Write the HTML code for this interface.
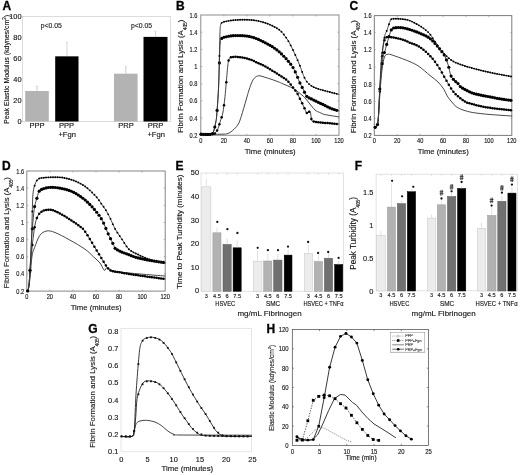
<!DOCTYPE html>
<html><head><meta charset="utf-8"><style>
html,body{margin:0;padding:0;background:#fff;}
svg{display:block;filter:grayscale(1) blur(0.45px);}
text{font-family:"Liberation Sans",sans-serif;stroke:#222;stroke-width:0.14px;}
</style></head><body>
<svg width="520" height="475" viewBox="0 0 520 475">
<rect x="0" y="0" width="520" height="475" fill="#fff"/>
<text x="2.5" y="10" font-size="12" text-anchor="start" fill="#000" font-weight="bold" style="stroke:#000;stroke-width:0.3px">A</text>
<rect x="22.5" y="16.5" width="148" height="105.1" fill="none" stroke="#d4d4d4" stroke-width="0.8"/>
<text x="21.6" y="124.2" font-size="7.4" text-anchor="end" fill="#111" font-weight="normal" >0</text>
<text x="21.6" y="103.18" font-size="7.4" text-anchor="end" fill="#111" font-weight="normal" >20</text>
<text x="21.6" y="82.16" font-size="7.4" text-anchor="end" fill="#111" font-weight="normal" >40</text>
<text x="21.6" y="61.14" font-size="7.4" text-anchor="end" fill="#111" font-weight="normal" >60</text>
<text x="21.6" y="40.12" font-size="7.4" text-anchor="end" fill="#111" font-weight="normal" >80</text>
<text x="21.6" y="19.1" font-size="7.4" text-anchor="end" fill="#111" font-weight="normal" >100</text>
<rect x="25.2" y="91.02" width="23.6" height="30.48" fill="#b3b3b3" stroke="none" stroke-width="0.6"/>
<rect x="55.2" y="56.34" width="23.3" height="65.16" fill="#000" stroke="none" stroke-width="0.6"/>
<rect x="114" y="73.68" width="23.6" height="47.82" fill="#b3b3b3" stroke="none" stroke-width="0.6"/>
<rect x="143.5" y="36.89" width="24" height="84.61" fill="#000" stroke="none" stroke-width="0.6"/>
<line x1="37" y1="91.02" x2="37" y2="86.19" stroke="#999" stroke-width="0.5" />
<line x1="35.8" y1="86.19" x2="38.2" y2="86.19" stroke="#bbb" stroke-width="0.4" />
<line x1="67" y1="56.34" x2="67" y2="42.25" stroke="#aaa" stroke-width="0.5" />
<line x1="65.8" y1="42.25" x2="68.2" y2="42.25" stroke="#bbb" stroke-width="0.4" />
<line x1="125.8" y1="73.68" x2="125.8" y2="66.32" stroke="#999" stroke-width="0.5" />
<line x1="124.6" y1="66.32" x2="127" y2="66.32" stroke="#bbb" stroke-width="0.4" />
<line x1="155.5" y1="36.89" x2="155.5" y2="31.64" stroke="#aaa" stroke-width="0.5" />
<line x1="154.3" y1="31.64" x2="156.7" y2="31.64" stroke="#bbb" stroke-width="0.4" />
<text x="51.3" y="27.8" font-size="6.8" text-anchor="middle" fill="#222" font-weight="normal" >p&lt;0.05</text>
<text x="141.5" y="28.1" font-size="6.8" text-anchor="middle" fill="#222" font-weight="normal" >p&lt;0.05</text>
<text x="37" y="128.3" font-size="7.6" text-anchor="middle" fill="#111" font-weight="normal" >PPP</text>
<text x="66.5" y="128.3" font-size="7.6" text-anchor="middle" fill="#111" font-weight="normal" >PPP</text>
<text x="67.2" y="137.3" font-size="7.6" text-anchor="middle" fill="#111" font-weight="normal" >+Fgn</text>
<text x="126" y="128.3" font-size="7.6" text-anchor="middle" fill="#111" font-weight="normal" >PRP</text>
<text x="155.5" y="128.3" font-size="7.6" text-anchor="middle" fill="#111" font-weight="normal" >PRP</text>
<text x="156.2" y="137.3" font-size="7.6" text-anchor="middle" fill="#111" font-weight="normal" >+Fgn</text>
<text x="8.71" y="69.35" font-size="6.97" text-anchor="middle" fill="#111" transform="rotate(-90 8.71 69.35)">Peak Elastic Modulus (kdynes/cm<tspan font-size="4.5" dy="-3">2</tspan><tspan dy="3">)</tspan></text>
<text x="176" y="10" font-size="12" text-anchor="start" fill="#000" font-weight="bold" style="stroke:#000;stroke-width:0.3px">B</text>
<rect x="200.8" y="15" width="138.2" height="120.3" fill="none" stroke="#8c8c8c" stroke-width="1"/>
<text x="197.3" y="137.8" font-size="6.9" text-anchor="end" fill="#111" font-weight="normal"  textLength="7.86" lengthAdjust="spacingAndGlyphs">0.2</text>
<text x="197.3" y="120.61" font-size="6.9" text-anchor="end" fill="#111" font-weight="normal"  textLength="7.86" lengthAdjust="spacingAndGlyphs">0.4</text>
<line x1="200.8" y1="118.11" x2="202.3" y2="118.11" stroke="#888" stroke-width="0.6" />
<line x1="339" y1="118.11" x2="337.5" y2="118.11" stroke="#888" stroke-width="0.6" />
<text x="197.3" y="103.43" font-size="6.9" text-anchor="end" fill="#111" font-weight="normal"  textLength="7.86" lengthAdjust="spacingAndGlyphs">0.6</text>
<line x1="200.8" y1="100.93" x2="202.3" y2="100.93" stroke="#888" stroke-width="0.6" />
<line x1="339" y1="100.93" x2="337.5" y2="100.93" stroke="#888" stroke-width="0.6" />
<text x="197.3" y="86.24" font-size="6.9" text-anchor="end" fill="#111" font-weight="normal"  textLength="7.86" lengthAdjust="spacingAndGlyphs">0.8</text>
<line x1="200.8" y1="83.74" x2="202.3" y2="83.74" stroke="#888" stroke-width="0.6" />
<line x1="339" y1="83.74" x2="337.5" y2="83.74" stroke="#888" stroke-width="0.6" />
<text x="197.3" y="69.06" font-size="6.9" text-anchor="end" fill="#111" font-weight="normal"  textLength="3.15" lengthAdjust="spacingAndGlyphs">1</text>
<line x1="200.8" y1="66.56" x2="202.3" y2="66.56" stroke="#888" stroke-width="0.6" />
<line x1="339" y1="66.56" x2="337.5" y2="66.56" stroke="#888" stroke-width="0.6" />
<text x="197.3" y="51.87" font-size="6.9" text-anchor="end" fill="#111" font-weight="normal"  textLength="7.86" lengthAdjust="spacingAndGlyphs">1.2</text>
<line x1="200.8" y1="49.37" x2="202.3" y2="49.37" stroke="#888" stroke-width="0.6" />
<line x1="339" y1="49.37" x2="337.5" y2="49.37" stroke="#888" stroke-width="0.6" />
<text x="197.3" y="34.69" font-size="6.9" text-anchor="end" fill="#111" font-weight="normal"  textLength="7.86" lengthAdjust="spacingAndGlyphs">1.4</text>
<line x1="200.8" y1="32.19" x2="202.3" y2="32.19" stroke="#888" stroke-width="0.6" />
<line x1="339" y1="32.19" x2="337.5" y2="32.19" stroke="#888" stroke-width="0.6" />
<text x="197.3" y="17.5" font-size="6.9" text-anchor="end" fill="#111" font-weight="normal"  textLength="7.86" lengthAdjust="spacingAndGlyphs">1.6</text>
<text x="200.8" y="143" font-size="6.9" text-anchor="middle" fill="#111" font-weight="normal"  textLength="3.15" lengthAdjust="spacingAndGlyphs">0</text>
<text x="223.83" y="143" font-size="6.9" text-anchor="middle" fill="#111" font-weight="normal"  textLength="6.29" lengthAdjust="spacingAndGlyphs">20</text>
<line x1="223.83" y1="135.3" x2="223.83" y2="133.8" stroke="#888" stroke-width="0.6" />
<line x1="223.83" y1="15" x2="223.83" y2="16.5" stroke="#888" stroke-width="0.6" />
<text x="246.87" y="143" font-size="6.9" text-anchor="middle" fill="#111" font-weight="normal"  textLength="6.29" lengthAdjust="spacingAndGlyphs">40</text>
<line x1="246.87" y1="135.3" x2="246.87" y2="133.8" stroke="#888" stroke-width="0.6" />
<line x1="246.87" y1="15" x2="246.87" y2="16.5" stroke="#888" stroke-width="0.6" />
<text x="269.9" y="143" font-size="6.9" text-anchor="middle" fill="#111" font-weight="normal"  textLength="6.29" lengthAdjust="spacingAndGlyphs">60</text>
<line x1="269.9" y1="135.3" x2="269.9" y2="133.8" stroke="#888" stroke-width="0.6" />
<line x1="269.9" y1="15" x2="269.9" y2="16.5" stroke="#888" stroke-width="0.6" />
<text x="292.93" y="143" font-size="6.9" text-anchor="middle" fill="#111" font-weight="normal"  textLength="6.29" lengthAdjust="spacingAndGlyphs">80</text>
<line x1="292.93" y1="135.3" x2="292.93" y2="133.8" stroke="#888" stroke-width="0.6" />
<line x1="292.93" y1="15" x2="292.93" y2="16.5" stroke="#888" stroke-width="0.6" />
<text x="315.97" y="143" font-size="6.9" text-anchor="middle" fill="#111" font-weight="normal"  textLength="9.44" lengthAdjust="spacingAndGlyphs">100</text>
<line x1="315.97" y1="135.3" x2="315.97" y2="133.8" stroke="#888" stroke-width="0.6" />
<line x1="315.97" y1="15" x2="315.97" y2="16.5" stroke="#888" stroke-width="0.6" />
<text x="339" y="143" font-size="6.9" text-anchor="middle" fill="#111" font-weight="normal"  textLength="9.44" lengthAdjust="spacingAndGlyphs">120</text>
<text x="270.2" y="154.1" font-size="7.7" text-anchor="middle" fill="#111" font-weight="normal" >Time (minutes)</text>
<text x="183.05" y="76.35" font-size="7.92" text-anchor="middle" fill="#111" transform="rotate(-90 183.05 76.35)">Fibrin Formation and Lysis (A<tspan font-size="4.7" dy="4.4">405</tspan><tspan dy="-4.4">)</tspan></text>
<path d="M201,134.2 C204.5,134.2 217.7,134.27 222,134.2 C226.3,134.13 225.47,134.08 226.8,133.8 C228.13,133.52 228.72,133.33 230,132.5 C231.28,131.67 233.1,130.22 234.5,128.8 C235.9,127.38 237.27,126.08 238.4,124 C239.53,121.92 240.02,120.3 241.3,116.3 C242.58,112.3 244.82,104.38 246.1,100 C247.38,95.62 247.97,93.13 249,90 C250.03,86.87 251.3,83.28 252.3,81.2 C253.3,79.12 254.1,78.37 255,77.5 C255.9,76.63 256.87,76.28 257.7,76 C258.53,75.72 258.83,75.6 260,75.8 C261.17,76 262.7,76.58 264.7,77.2 C266.7,77.82 269.53,78.65 272,79.5 C274.47,80.35 277.67,81.57 279.5,82.3 C281.33,83.03 280.73,82.87 283,83.9 C285.27,84.93 289.73,86.47 293.1,88.5 C296.47,90.53 300.67,93.85 303.2,96.1 C305.73,98.35 306.33,99.68 308.3,102 C310.27,104.32 313.08,108.25 315,110 C316.92,111.75 318.38,111.8 319.8,112.5 C321.22,113.2 321.8,113.7 323.5,114.2 C325.2,114.7 327.45,115.07 330,115.5 C332.55,115.93 337.33,116.58 338.8,116.8" fill="none" stroke="#3c3c3c" stroke-width="0.95" stroke-linejoin="round" stroke-linecap="round" />
<path d="M201,134.2 C203,134.17 210.53,134.33 213,134 C215.47,133.67 214.97,133.08 215.8,132.2 C216.63,131.32 217.25,130.53 218,128.7 C218.75,126.87 219.5,123.82 220.3,121.2 C221.1,118.58 222.02,117.12 222.8,113 C223.58,108.88 224.23,103.73 225,96.5 C225.77,89.27 226.82,75.52 227.4,69.6 C227.98,63.68 228.07,62.97 228.5,61 C228.93,59.03 229.25,58.47 230,57.8 C230.75,57.13 232,57.17 233,57 C234,56.83 234.5,56.72 236,56.8 C237.5,56.88 239.67,57.05 242,57.5 C244.33,57.95 247.5,58.67 250,59.5 C252.5,60.33 254.55,61.4 257,62.5 C259.45,63.6 262.2,64.77 264.7,66.1 C267.2,67.43 269.53,68.98 272,70.5 C274.47,72.02 276.97,73.53 279.5,75.2 C282.03,76.87 284.78,78.22 287.2,80.5 C289.62,82.78 292.38,86.87 294,88.9 C295.62,90.93 295.78,90.8 296.9,92.7 C298.02,94.6 299.52,97.9 300.7,100.3 C301.88,102.7 303.03,105.02 304,107.1 C304.97,109.18 305.75,111.93 306.5,112.8 C307.25,113.67 307.88,112.5 308.5,112.3 C309.12,112.1 309.67,110.28 310.2,111.6 C310.73,112.92 311.15,118.55 311.7,120.2 C312.25,121.85 312.12,121.12 313.5,121.5 C314.88,121.88 317.25,122.2 320,122.5 C322.75,122.8 326.87,123.03 330,123.3 C333.13,123.57 337.33,123.97 338.8,124.1" fill="none" stroke="#444" stroke-width="1" stroke-linejoin="round" stroke-linecap="round" />
<circle cx="201" cy="134.2" r="1.25" fill="#000"/>
<circle cx="203.3" cy="134.2" r="1.25" fill="#000"/>
<circle cx="205.6" cy="134.21" r="1.25" fill="#000"/>
<circle cx="207.9" cy="134.21" r="1.25" fill="#000"/>
<circle cx="210.2" cy="134.17" r="1.25" fill="#000"/>
<circle cx="212.5" cy="134.05" r="1.25" fill="#000"/>
<circle cx="214.8" cy="133.48" r="1.25" fill="#000"/>
<circle cx="217.1" cy="130.54" r="1.25" fill="#000"/>
<circle cx="219.4" cy="124.3" r="1.25" fill="#000"/>
<circle cx="221.7" cy="117.24" r="1.25" fill="#000"/>
<circle cx="224" cy="105.19" r="1.25" fill="#000"/>
<circle cx="226.3" cy="82.19" r="1.25" fill="#000"/>
<circle cx="228.6" cy="60.56" r="1.25" fill="#000"/>
<circle cx="230.9" cy="57.33" r="1.25" fill="#000"/>
<circle cx="233.2" cy="56.97" r="1.25" fill="#000"/>
<circle cx="235.5" cy="56.78" r="1.25" fill="#000"/>
<circle cx="237.8" cy="56.93" r="1.25" fill="#000"/>
<circle cx="240.1" cy="57.19" r="1.25" fill="#000"/>
<circle cx="242.4" cy="57.58" r="1.25" fill="#000"/>
<circle cx="244.7" cy="58.07" r="1.25" fill="#000"/>
<circle cx="247" cy="58.62" r="1.25" fill="#000"/>
<circle cx="249.3" cy="59.28" r="1.25" fill="#000"/>
<circle cx="251.6" cy="60.09" r="1.25" fill="#000"/>
<circle cx="253.9" cy="61.07" r="1.25" fill="#000"/>
<circle cx="256.2" cy="62.14" r="1.25" fill="#000"/>
<circle cx="258.5" cy="63.17" r="1.25" fill="#000"/>
<circle cx="260.8" cy="64.2" r="1.25" fill="#000"/>
<circle cx="263.1" cy="65.28" r="1.25" fill="#000"/>
<circle cx="265.4" cy="66.48" r="1.25" fill="#000"/>
<circle cx="267.7" cy="67.83" r="1.25" fill="#000"/>
<circle cx="270" cy="69.25" r="1.25" fill="#000"/>
<circle cx="272.3" cy="70.68" r="1.25" fill="#000"/>
<circle cx="274.6" cy="72.1" r="1.25" fill="#000"/>
<circle cx="276.9" cy="73.53" r="1.25" fill="#000"/>
<circle cx="279.2" cy="75" r="1.25" fill="#000"/>
<circle cx="281.5" cy="76.45" r="1.25" fill="#000"/>
<circle cx="283.8" cy="77.88" r="1.25" fill="#000"/>
<circle cx="286.1" cy="79.54" r="1.25" fill="#000"/>
<circle cx="288.4" cy="81.74" r="1.25" fill="#000"/>
<circle cx="290.7" cy="84.54" r="1.25" fill="#000"/>
<circle cx="293" cy="87.59" r="1.25" fill="#000"/>
<circle cx="295.3" cy="90.46" r="1.25" fill="#000"/>
<circle cx="297.6" cy="93.97" r="1.25" fill="#000"/>
<circle cx="299.9" cy="98.65" r="1.25" fill="#000"/>
<circle cx="302.2" cy="103.35" r="1.25" fill="#000"/>
<circle cx="304.5" cy="108.26" r="1.25" fill="#000"/>
<circle cx="306.8" cy="113.04" r="1.25" fill="#000"/>
<circle cx="309.1" cy="111.73" r="1.25" fill="#000"/>
<circle cx="311.4" cy="118.88" r="1.25" fill="#000"/>
<circle cx="313.7" cy="121.55" r="1.25" fill="#000"/>
<circle cx="316" cy="121.99" r="1.25" fill="#000"/>
<circle cx="318.3" cy="122.31" r="1.25" fill="#000"/>
<circle cx="320.6" cy="122.56" r="1.25" fill="#000"/>
<circle cx="322.9" cy="122.76" r="1.25" fill="#000"/>
<circle cx="325.2" cy="122.94" r="1.25" fill="#000"/>
<circle cx="327.5" cy="123.1" r="1.25" fill="#000"/>
<circle cx="329.8" cy="123.28" r="1.25" fill="#000"/>
<circle cx="332.1" cy="123.48" r="1.25" fill="#000"/>
<circle cx="334.4" cy="123.69" r="1.25" fill="#000"/>
<circle cx="336.7" cy="123.91" r="1.25" fill="#000"/>
<path d="M201,134.2 C202.67,134.2 208.88,134.73 211,134.2 C213.12,133.67 212.9,133.02 213.7,131 C214.5,128.98 215.29,124.78 215.8,122.1 C216.31,119.42 216.3,120.45 216.75,114.9 C217.2,109.35 218.04,97.95 218.5,88.8 C218.96,79.65 219.22,67.63 219.5,60 C219.78,52.37 219.82,46.62 220.2,43 C220.58,39.38 220.83,39.33 221.8,38.3 C222.77,37.27 224.3,37.22 226,36.8 C227.7,36.38 229.83,36 232,35.8 C234.17,35.6 236.83,35.58 239,35.6 C241.17,35.62 243.17,35.73 245,35.9 C246.83,36.07 248,36.12 250,36.6 C252,37.08 254.55,37.82 257,38.8 C259.45,39.78 262.2,41.22 264.7,42.5 C267.2,43.78 269.53,44.9 272,46.5 C274.47,48.1 277.03,49.93 279.5,52.1 C281.97,54.27 284.6,57.02 286.8,59.5 C289,61.98 291.02,64.33 292.7,67 C294.38,69.67 295.85,73.17 296.9,75.5 C297.95,77.83 297.88,78.55 299,81 C300.12,83.45 302.48,87.9 303.6,90.2 C304.72,92.5 304.97,93.6 305.7,94.8 C306.43,96 307.15,96.77 308,97.4 C308.85,98.03 309.07,97.77 310.8,98.6 C312.53,99.43 316.37,101.42 318.4,102.4 C320.43,103.38 321.07,103.57 323,104.5 C324.93,105.43 327.37,106.92 330,108 C332.63,109.08 337.33,110.5 338.8,111" fill="none" stroke="#444" stroke-width="1" stroke-linejoin="round" stroke-linecap="round" />
<circle cx="201" cy="134.2" r="1.6" fill="#000"/>
<circle cx="203.3" cy="134.29" r="1.6" fill="#000"/>
<circle cx="205.6" cy="134.39" r="1.6" fill="#000"/>
<circle cx="207.9" cy="134.44" r="1.6" fill="#000"/>
<circle cx="210.2" cy="134.33" r="1.6" fill="#000"/>
<circle cx="212.5" cy="133.55" r="1.6" fill="#000"/>
<circle cx="214.8" cy="127.06" r="1.6" fill="#000"/>
<circle cx="217.1" cy="110.41" r="1.6" fill="#000"/>
<circle cx="219.4" cy="62.9" r="1.6" fill="#000"/>
<circle cx="221.7" cy="38.41" r="1.6" fill="#000"/>
<circle cx="224" cy="37.23" r="1.6" fill="#000"/>
<circle cx="226.3" cy="36.73" r="1.6" fill="#000"/>
<circle cx="228.6" cy="36.26" r="1.6" fill="#000"/>
<circle cx="230.9" cy="35.92" r="1.6" fill="#000"/>
<circle cx="233.2" cy="35.71" r="1.6" fill="#000"/>
<circle cx="235.5" cy="35.62" r="1.6" fill="#000"/>
<circle cx="237.8" cy="35.6" r="1.6" fill="#000"/>
<circle cx="240.1" cy="35.62" r="1.6" fill="#000"/>
<circle cx="242.4" cy="35.71" r="1.6" fill="#000"/>
<circle cx="244.7" cy="35.87" r="1.6" fill="#000"/>
<circle cx="247" cy="36.08" r="1.6" fill="#000"/>
<circle cx="249.3" cy="36.44" r="1.6" fill="#000"/>
<circle cx="251.6" cy="37.01" r="1.6" fill="#000"/>
<circle cx="253.9" cy="37.69" r="1.6" fill="#000"/>
<circle cx="256.2" cy="38.49" r="1.6" fill="#000"/>
<circle cx="258.5" cy="39.44" r="1.6" fill="#000"/>
<circle cx="260.8" cy="40.52" r="1.6" fill="#000"/>
<circle cx="263.1" cy="41.68" r="1.6" fill="#000"/>
<circle cx="265.4" cy="42.86" r="1.6" fill="#000"/>
<circle cx="267.7" cy="44.03" r="1.6" fill="#000"/>
<circle cx="270" cy="45.28" r="1.6" fill="#000"/>
<circle cx="272.3" cy="46.7" r="1.6" fill="#000"/>
<circle cx="274.6" cy="48.26" r="1.6" fill="#000"/>
<circle cx="276.9" cy="49.96" r="1.6" fill="#000"/>
<circle cx="279.2" cy="51.84" r="1.6" fill="#000"/>
<circle cx="281.5" cy="53.95" r="1.6" fill="#000"/>
<circle cx="283.8" cy="56.25" r="1.6" fill="#000"/>
<circle cx="286.1" cy="58.72" r="1.6" fill="#000"/>
<circle cx="288.4" cy="61.33" r="1.6" fill="#000"/>
<circle cx="290.7" cy="64.15" r="1.6" fill="#000"/>
<circle cx="293" cy="67.49" r="1.6" fill="#000"/>
<circle cx="295.3" cy="71.94" r="1.6" fill="#000"/>
<circle cx="297.6" cy="77.24" r="1.6" fill="#000"/>
<circle cx="299.9" cy="82.88" r="1.6" fill="#000"/>
<circle cx="302.2" cy="87.42" r="1.6" fill="#000"/>
<circle cx="304.5" cy="92.2" r="1.6" fill="#000"/>
<circle cx="306.8" cy="96.31" r="1.6" fill="#000"/>
<circle cx="309.1" cy="97.93" r="1.6" fill="#000"/>
<circle cx="311.4" cy="98.89" r="1.6" fill="#000"/>
<circle cx="313.7" cy="100.05" r="1.6" fill="#000"/>
<circle cx="316" cy="101.21" r="1.6" fill="#000"/>
<circle cx="318.3" cy="102.35" r="1.6" fill="#000"/>
<circle cx="320.6" cy="103.41" r="1.6" fill="#000"/>
<circle cx="322.9" cy="104.45" r="1.6" fill="#000"/>
<circle cx="325.2" cy="105.64" r="1.6" fill="#000"/>
<circle cx="327.5" cy="106.85" r="1.6" fill="#000"/>
<circle cx="329.8" cy="107.91" r="1.6" fill="#000"/>
<circle cx="332.1" cy="108.79" r="1.6" fill="#000"/>
<circle cx="334.4" cy="109.57" r="1.6" fill="#000"/>
<circle cx="336.7" cy="110.32" r="1.6" fill="#000"/>
<path d="M201,134.2 C202.67,134.2 208.88,134.73 211,134.2 C213.12,133.67 212.9,133.02 213.7,131 C214.5,128.98 215.29,124.78 215.8,122.1 C216.31,119.42 216.3,120.45 216.75,114.9 C217.2,109.35 218.07,97.95 218.5,88.8 C218.93,79.65 219.07,68.97 219.3,60 C219.53,51.03 219.7,40.75 219.9,35 C220.1,29.25 220.15,27.57 220.5,25.5 C220.85,23.43 221.08,23.28 222,22.6 C222.92,21.92 224.33,21.77 226,21.4 C227.67,21.03 229.17,20.68 232,20.4 C234.83,20.12 239.17,19.7 243,19.7 C246.83,19.7 251.33,19.88 255,20.4 C258.67,20.92 262.17,21.93 265,22.8 C267.83,23.67 269.58,24.4 272,25.6 C274.42,26.8 277.5,28.47 279.5,30 C281.5,31.53 282.58,33.05 284,34.8 C285.42,36.55 286.67,38.3 288,40.5 C289.33,42.7 290.67,45.33 292,48 C293.33,50.67 294.67,53.5 296,56.5 C297.33,59.5 298.75,62.83 300,66 C301.25,69.17 302.5,73.08 303.5,75.5 C304.5,77.92 305.08,79.08 306,80.5 C306.92,81.92 307.83,82.95 309,84 C310.17,85.05 311.5,86 313,86.8 C314.5,87.6 316,88.13 318,88.8 C320,89.47 321.53,89.87 325,90.8 C328.47,91.73 336.5,93.8 338.8,94.4" fill="none" stroke="#333" stroke-width="0.9" stroke-linejoin="round" stroke-linecap="round" />
<circle cx="201" cy="134.2" r="0.95" fill="#000"/>
<circle cx="203.3" cy="134.29" r="0.95" fill="#000"/>
<circle cx="205.6" cy="134.39" r="0.95" fill="#000"/>
<circle cx="207.9" cy="134.44" r="0.95" fill="#000"/>
<circle cx="210.2" cy="134.33" r="0.95" fill="#000"/>
<circle cx="212.5" cy="133.55" r="0.95" fill="#000"/>
<circle cx="214.8" cy="127.06" r="0.95" fill="#000"/>
<circle cx="217.1" cy="110.46" r="0.95" fill="#000"/>
<circle cx="219.4" cy="55.92" r="0.95" fill="#000"/>
<circle cx="221.7" cy="22.83" r="0.95" fill="#000"/>
<circle cx="224" cy="21.82" r="0.95" fill="#000"/>
<circle cx="226.3" cy="21.33" r="0.95" fill="#000"/>
<circle cx="228.6" cy="20.86" r="0.95" fill="#000"/>
<circle cx="230.9" cy="20.52" r="0.95" fill="#000"/>
<circle cx="233.2" cy="20.28" r="0.95" fill="#000"/>
<circle cx="235.5" cy="20.07" r="0.95" fill="#000"/>
<circle cx="237.8" cy="19.9" r="0.95" fill="#000"/>
<circle cx="240.1" cy="19.77" r="0.95" fill="#000"/>
<circle cx="242.4" cy="19.71" r="0.95" fill="#000"/>
<circle cx="244.7" cy="19.71" r="0.95" fill="#000"/>
<circle cx="247" cy="19.77" r="0.95" fill="#000"/>
<circle cx="249.3" cy="19.87" r="0.95" fill="#000"/>
<circle cx="251.6" cy="20.03" r="0.95" fill="#000"/>
<circle cx="253.9" cy="20.26" r="0.95" fill="#000"/>
<circle cx="256.2" cy="20.59" r="0.95" fill="#000"/>
<circle cx="258.5" cy="21.04" r="0.95" fill="#000"/>
<circle cx="260.8" cy="21.6" r="0.95" fill="#000"/>
<circle cx="263.1" cy="22.23" r="0.95" fill="#000"/>
<circle cx="265.4" cy="22.92" r="0.95" fill="#000"/>
<circle cx="267.7" cy="23.71" r="0.95" fill="#000"/>
<circle cx="270" cy="24.65" r="0.95" fill="#000"/>
<circle cx="272.3" cy="25.75" r="0.95" fill="#000"/>
<circle cx="274.6" cy="26.95" r="0.95" fill="#000"/>
<circle cx="276.9" cy="28.26" r="0.95" fill="#000"/>
<circle cx="279.2" cy="29.78" r="0.95" fill="#000"/>
<circle cx="281.5" cy="31.81" r="0.95" fill="#000"/>
<circle cx="283.8" cy="34.55" r="0.95" fill="#000"/>
<circle cx="286.1" cy="37.58" r="0.95" fill="#000"/>
<circle cx="288.4" cy="41.17" r="0.95" fill="#000"/>
<circle cx="290.7" cy="45.42" r="0.95" fill="#000"/>
<circle cx="293" cy="50.03" r="0.95" fill="#000"/>
<circle cx="295.3" cy="54.94" r="0.95" fill="#000"/>
<circle cx="297.6" cy="60.17" r="0.95" fill="#000"/>
<circle cx="299.9" cy="65.75" r="0.95" fill="#000"/>
<circle cx="302.2" cy="72.03" r="0.95" fill="#000"/>
<circle cx="304.5" cy="77.79" r="0.95" fill="#000"/>
<circle cx="306.8" cy="81.64" r="0.95" fill="#000"/>
<circle cx="309.1" cy="84.09" r="0.95" fill="#000"/>
<circle cx="311.4" cy="85.85" r="0.95" fill="#000"/>
<circle cx="313.7" cy="87.15" r="0.95" fill="#000"/>
<circle cx="316" cy="88.11" r="0.95" fill="#000"/>
<circle cx="318.3" cy="88.9" r="0.95" fill="#000"/>
<circle cx="320.6" cy="89.6" r="0.95" fill="#000"/>
<circle cx="322.9" cy="90.23" r="0.95" fill="#000"/>
<circle cx="325.2" cy="90.85" r="0.95" fill="#000"/>
<circle cx="327.5" cy="91.46" r="0.95" fill="#000"/>
<circle cx="329.8" cy="92.06" r="0.95" fill="#000"/>
<circle cx="332.1" cy="92.66" r="0.95" fill="#000"/>
<circle cx="334.4" cy="93.26" r="0.95" fill="#000"/>
<circle cx="336.7" cy="93.86" r="0.95" fill="#000"/>
<text x="349.5" y="10" font-size="12" text-anchor="start" fill="#000" font-weight="bold" style="stroke:#000;stroke-width:0.3px">C</text>
<rect x="374.3" y="15.6" width="137.5" height="119.8" fill="none" stroke="#7c7c7c" stroke-width="1"/>
<text x="371.6" y="137.9" font-size="6.9" text-anchor="end" fill="#111" font-weight="normal"  textLength="7.86" lengthAdjust="spacingAndGlyphs">0.2</text>
<text x="371.6" y="120.79" font-size="6.9" text-anchor="end" fill="#111" font-weight="normal"  textLength="7.86" lengthAdjust="spacingAndGlyphs">0.4</text>
<line x1="374.3" y1="118.29" x2="375.8" y2="118.29" stroke="#888" stroke-width="0.6" />
<line x1="511.8" y1="118.29" x2="510.3" y2="118.29" stroke="#888" stroke-width="0.6" />
<text x="371.6" y="103.67" font-size="6.9" text-anchor="end" fill="#111" font-weight="normal"  textLength="7.86" lengthAdjust="spacingAndGlyphs">0.6</text>
<line x1="374.3" y1="101.17" x2="375.8" y2="101.17" stroke="#888" stroke-width="0.6" />
<line x1="511.8" y1="101.17" x2="510.3" y2="101.17" stroke="#888" stroke-width="0.6" />
<text x="371.6" y="86.56" font-size="6.9" text-anchor="end" fill="#111" font-weight="normal"  textLength="7.86" lengthAdjust="spacingAndGlyphs">0.8</text>
<line x1="374.3" y1="84.06" x2="375.8" y2="84.06" stroke="#888" stroke-width="0.6" />
<line x1="511.8" y1="84.06" x2="510.3" y2="84.06" stroke="#888" stroke-width="0.6" />
<text x="371.6" y="69.44" font-size="6.9" text-anchor="end" fill="#111" font-weight="normal"  textLength="3.15" lengthAdjust="spacingAndGlyphs">1</text>
<line x1="374.3" y1="66.94" x2="375.8" y2="66.94" stroke="#888" stroke-width="0.6" />
<line x1="511.8" y1="66.94" x2="510.3" y2="66.94" stroke="#888" stroke-width="0.6" />
<text x="371.6" y="52.33" font-size="6.9" text-anchor="end" fill="#111" font-weight="normal"  textLength="7.86" lengthAdjust="spacingAndGlyphs">1.2</text>
<line x1="374.3" y1="49.83" x2="375.8" y2="49.83" stroke="#888" stroke-width="0.6" />
<line x1="511.8" y1="49.83" x2="510.3" y2="49.83" stroke="#888" stroke-width="0.6" />
<text x="371.6" y="35.21" font-size="6.9" text-anchor="end" fill="#111" font-weight="normal"  textLength="7.86" lengthAdjust="spacingAndGlyphs">1.4</text>
<line x1="374.3" y1="32.71" x2="375.8" y2="32.71" stroke="#888" stroke-width="0.6" />
<line x1="511.8" y1="32.71" x2="510.3" y2="32.71" stroke="#888" stroke-width="0.6" />
<text x="371.6" y="18.1" font-size="6.9" text-anchor="end" fill="#111" font-weight="normal"  textLength="7.86" lengthAdjust="spacingAndGlyphs">1.6</text>
<text x="374.3" y="143.3" font-size="6.9" text-anchor="middle" fill="#111" font-weight="normal"  textLength="3.15" lengthAdjust="spacingAndGlyphs">0</text>
<text x="397.22" y="143.3" font-size="6.9" text-anchor="middle" fill="#111" font-weight="normal"  textLength="6.29" lengthAdjust="spacingAndGlyphs">20</text>
<line x1="397.22" y1="135.4" x2="397.22" y2="133.9" stroke="#888" stroke-width="0.6" />
<line x1="397.22" y1="15.6" x2="397.22" y2="17.1" stroke="#888" stroke-width="0.6" />
<text x="420.13" y="143.3" font-size="6.9" text-anchor="middle" fill="#111" font-weight="normal"  textLength="6.29" lengthAdjust="spacingAndGlyphs">40</text>
<line x1="420.13" y1="135.4" x2="420.13" y2="133.9" stroke="#888" stroke-width="0.6" />
<line x1="420.13" y1="15.6" x2="420.13" y2="17.1" stroke="#888" stroke-width="0.6" />
<text x="443.05" y="143.3" font-size="6.9" text-anchor="middle" fill="#111" font-weight="normal"  textLength="6.29" lengthAdjust="spacingAndGlyphs">60</text>
<line x1="443.05" y1="135.4" x2="443.05" y2="133.9" stroke="#888" stroke-width="0.6" />
<line x1="443.05" y1="15.6" x2="443.05" y2="17.1" stroke="#888" stroke-width="0.6" />
<text x="465.97" y="143.3" font-size="6.9" text-anchor="middle" fill="#111" font-weight="normal"  textLength="6.29" lengthAdjust="spacingAndGlyphs">80</text>
<line x1="465.97" y1="135.4" x2="465.97" y2="133.9" stroke="#888" stroke-width="0.6" />
<line x1="465.97" y1="15.6" x2="465.97" y2="17.1" stroke="#888" stroke-width="0.6" />
<text x="488.88" y="143.3" font-size="6.9" text-anchor="middle" fill="#111" font-weight="normal"  textLength="9.44" lengthAdjust="spacingAndGlyphs">100</text>
<line x1="488.88" y1="135.4" x2="488.88" y2="133.9" stroke="#888" stroke-width="0.6" />
<line x1="488.88" y1="15.6" x2="488.88" y2="17.1" stroke="#888" stroke-width="0.6" />
<text x="511.8" y="143.3" font-size="6.9" text-anchor="middle" fill="#111" font-weight="normal"  textLength="9.44" lengthAdjust="spacingAndGlyphs">120</text>
<text x="443.3" y="154.3" font-size="7.7" text-anchor="middle" fill="#111" font-weight="normal" >Time (minutes)</text>
<text x="355.64" y="76.65" font-size="7.9" text-anchor="middle" fill="#111" transform="rotate(-90 355.64 76.65)">Fibrin Formation and Lysis (A<tspan font-size="4.7" dy="4.4">405</tspan><tspan dy="-4.4">)</tspan></text>
<path d="M375.2,127.3 C375.67,126.35 377.2,127.48 378,121.6 C378.8,115.72 379.33,100.6 380,92 C380.67,83.4 381.25,75.83 382,70 C382.75,64.17 383.45,59.63 384.5,57 C385.55,54.37 386.52,54.35 388.3,54.2 C390.08,54.05 391.58,54.85 395.2,56.1 C398.82,57.35 406,59.95 410,61.7 C414,63.45 415.87,64.3 419.2,66.6 C422.53,68.9 426.87,72.93 430,75.5 C433.13,78.07 435.7,79.72 438,82 C440.3,84.28 442.25,86.85 443.8,89.2 C445.35,91.55 446.1,94.13 447.3,96.1 C448.5,98.07 449.55,99.27 451,101 C452.45,102.73 454,105 456,106.5 C458,108 460.12,108.98 463,110 C465.88,111.02 468.8,111.85 473.3,112.6 C477.8,113.35 483.58,113.93 490,114.5 C496.42,115.07 508.17,115.75 511.8,116" fill="none" stroke="#3c3c3c" stroke-width="0.95" stroke-linejoin="round" stroke-linecap="round" />
<path d="M375.2,127.3 C375.67,126.35 377.2,128.15 378,121.6 C378.8,115.05 379.3,99.1 380,88 C380.7,76.9 381.45,63 382.2,55 C382.95,47 383.58,42.98 384.5,40 C385.42,37.02 385.92,37.47 387.7,37.1 C389.48,36.73 392.32,37.23 395.2,37.8 C398.08,38.37 402.53,39.67 405,40.5 C407.47,41.33 407.63,41.77 410,42.8 C412.37,43.83 415.87,44.53 419.2,46.7 C422.53,48.87 426.77,52.42 430,55.8 C433.23,59.18 436,63.1 438.6,67 C441.2,70.9 443.87,76.2 445.6,79.2 C447.33,82.2 447.57,82.75 449,85 C450.43,87.25 451.6,89.98 454.2,92.7 C456.8,95.42 461.63,99.42 464.6,101.3 C467.57,103.18 469.12,103.13 472,104 C474.88,104.87 478.07,105.75 481.9,106.5 C485.73,107.25 490.02,107.87 495,108.5 C499.98,109.13 509,110 511.8,110.3" fill="none" stroke="#444" stroke-width="1" stroke-linejoin="round" stroke-linecap="round" />
<circle cx="375.2" cy="127.3" r="1.25" fill="#000"/>
<circle cx="377.5" cy="124.39" r="1.25" fill="#000"/>
<circle cx="379.8" cy="91.4" r="1.25" fill="#000"/>
<circle cx="382.1" cy="56.13" r="1.25" fill="#000"/>
<circle cx="384.4" cy="40.34" r="1.25" fill="#000"/>
<circle cx="386.7" cy="37.27" r="1.25" fill="#000"/>
<circle cx="389" cy="36.98" r="1.25" fill="#000"/>
<circle cx="391.3" cy="37.13" r="1.25" fill="#000"/>
<circle cx="393.6" cy="37.5" r="1.25" fill="#000"/>
<circle cx="395.9" cy="37.95" r="1.25" fill="#000"/>
<circle cx="398.2" cy="38.5" r="1.25" fill="#000"/>
<circle cx="400.5" cy="39.12" r="1.25" fill="#000"/>
<circle cx="402.8" cy="39.8" r="1.25" fill="#000"/>
<circle cx="405.1" cy="40.54" r="1.25" fill="#000"/>
<circle cx="407.4" cy="41.5" r="1.25" fill="#000"/>
<circle cx="409.7" cy="42.67" r="1.25" fill="#000"/>
<circle cx="412" cy="43.55" r="1.25" fill="#000"/>
<circle cx="414.3" cy="44.35" r="1.25" fill="#000"/>
<circle cx="416.6" cy="45.28" r="1.25" fill="#000"/>
<circle cx="418.9" cy="46.52" r="1.25" fill="#000"/>
<circle cx="421.2" cy="48.09" r="1.25" fill="#000"/>
<circle cx="423.5" cy="49.86" r="1.25" fill="#000"/>
<circle cx="425.8" cy="51.8" r="1.25" fill="#000"/>
<circle cx="428.1" cy="53.9" r="1.25" fill="#000"/>
<circle cx="430.4" cy="56.23" r="1.25" fill="#000"/>
<circle cx="432.7" cy="58.87" r="1.25" fill="#000"/>
<circle cx="435" cy="61.83" r="1.25" fill="#000"/>
<circle cx="437.3" cy="65.07" r="1.25" fill="#000"/>
<circle cx="439.6" cy="68.56" r="1.25" fill="#000"/>
<circle cx="441.9" cy="72.49" r="1.25" fill="#000"/>
<circle cx="444.2" cy="76.69" r="1.25" fill="#000"/>
<circle cx="446.5" cy="80.77" r="1.25" fill="#000"/>
<circle cx="448.8" cy="84.68" r="1.25" fill="#000"/>
<circle cx="451.1" cy="88.57" r="1.25" fill="#000"/>
<circle cx="453.4" cy="91.81" r="1.25" fill="#000"/>
<circle cx="455.7" cy="94.18" r="1.25" fill="#000"/>
<circle cx="458" cy="96.24" r="1.25" fill="#000"/>
<circle cx="460.3" cy="98.16" r="1.25" fill="#000"/>
<circle cx="462.6" cy="99.92" r="1.25" fill="#000"/>
<circle cx="464.9" cy="101.48" r="1.25" fill="#000"/>
<circle cx="467.2" cy="102.65" r="1.25" fill="#000"/>
<circle cx="469.5" cy="103.34" r="1.25" fill="#000"/>
<circle cx="471.8" cy="103.94" r="1.25" fill="#000"/>
<circle cx="474.1" cy="104.62" r="1.25" fill="#000"/>
<circle cx="476.4" cy="105.24" r="1.25" fill="#000"/>
<circle cx="478.7" cy="105.81" r="1.25" fill="#000"/>
<circle cx="481" cy="106.32" r="1.25" fill="#000"/>
<circle cx="483.3" cy="106.76" r="1.25" fill="#000"/>
<circle cx="485.6" cy="107.16" r="1.25" fill="#000"/>
<circle cx="487.9" cy="107.53" r="1.25" fill="#000"/>
<circle cx="490.2" cy="107.86" r="1.25" fill="#000"/>
<circle cx="492.5" cy="108.18" r="1.25" fill="#000"/>
<circle cx="494.8" cy="108.47" r="1.25" fill="#000"/>
<circle cx="497.1" cy="108.75" r="1.25" fill="#000"/>
<circle cx="499.4" cy="109.01" r="1.25" fill="#000"/>
<circle cx="501.7" cy="109.26" r="1.25" fill="#000"/>
<circle cx="504" cy="109.5" r="1.25" fill="#000"/>
<circle cx="506.3" cy="109.74" r="1.25" fill="#000"/>
<circle cx="508.6" cy="109.97" r="1.25" fill="#000"/>
<circle cx="510.9" cy="110.21" r="1.25" fill="#000"/>
<path d="M375.2,127.3 C375.67,126.35 377.2,128.48 378,121.6 C378.8,114.72 379.23,96.3 380,86 C380.77,75.7 381.75,65.73 382.6,59.8 C383.45,53.87 384.37,53.13 385.1,50.4 C385.83,47.67 386.15,46.35 387,43.4 C387.85,40.45 389.35,35.12 390.2,32.7 C391.05,30.28 391.27,29.73 392.1,28.9 C392.93,28.07 393.55,27.9 395.2,27.7 C396.85,27.5 399.53,27.38 402,27.7 C404.47,28.02 407.13,28.72 410,29.6 C412.87,30.48 415.87,31.52 419.2,33 C422.53,34.48 426.47,35.7 430,38.5 C433.53,41.3 437.9,46.8 440.4,49.8 C442.9,52.8 443.7,53.97 445,56.5 C446.3,59.03 447.23,61.85 448.2,65 C449.17,68.15 449.83,72.9 450.8,75.4 C451.77,77.9 452.85,78.7 454,80 C455.15,81.3 456.65,82.1 457.7,83.2 C458.75,84.3 459.08,85.55 460.3,86.6 C461.52,87.65 463.13,88.48 465,89.5 C466.87,90.52 469,91.78 471.5,92.7 C474,93.62 476.82,94.28 480,95 C483.18,95.72 487.27,96.37 490.6,97 C493.93,97.63 496.47,98.22 500,98.8 C503.53,99.38 509.83,100.22 511.8,100.5" fill="none" stroke="#444" stroke-width="1" stroke-linejoin="round" stroke-linecap="round" />
<circle cx="375.2" cy="127.3" r="1.6" fill="#000"/>
<circle cx="377.5" cy="124.51" r="1.6" fill="#000"/>
<circle cx="379.8" cy="88.99" r="1.6" fill="#000"/>
<circle cx="382.1" cy="63.63" r="1.6" fill="#000"/>
<circle cx="384.4" cy="52.51" r="1.6" fill="#000"/>
<circle cx="386.7" cy="44.45" r="1.6" fill="#000"/>
<circle cx="389" cy="36.5" r="1.6" fill="#000"/>
<circle cx="391.3" cy="29.93" r="1.6" fill="#000"/>
<circle cx="393.6" cy="27.98" r="1.6" fill="#000"/>
<circle cx="395.9" cy="27.63" r="1.6" fill="#000"/>
<circle cx="398.2" cy="27.51" r="1.6" fill="#000"/>
<circle cx="400.5" cy="27.56" r="1.6" fill="#000"/>
<circle cx="402.8" cy="27.82" r="1.6" fill="#000"/>
<circle cx="405.1" cy="28.26" r="1.6" fill="#000"/>
<circle cx="407.4" cy="28.84" r="1.6" fill="#000"/>
<circle cx="409.7" cy="29.51" r="1.6" fill="#000"/>
<circle cx="412" cy="30.24" r="1.6" fill="#000"/>
<circle cx="414.3" cy="31.03" r="1.6" fill="#000"/>
<circle cx="416.6" cy="31.9" r="1.6" fill="#000"/>
<circle cx="418.9" cy="32.87" r="1.6" fill="#000"/>
<circle cx="421.2" cy="33.85" r="1.6" fill="#000"/>
<circle cx="423.5" cy="34.8" r="1.6" fill="#000"/>
<circle cx="425.8" cy="35.87" r="1.6" fill="#000"/>
<circle cx="428.1" cy="37.16" r="1.6" fill="#000"/>
<circle cx="430.4" cy="38.84" r="1.6" fill="#000"/>
<circle cx="432.7" cy="40.96" r="1.6" fill="#000"/>
<circle cx="435" cy="43.42" r="1.6" fill="#000"/>
<circle cx="437.3" cy="46.07" r="1.6" fill="#000"/>
<circle cx="439.6" cy="48.83" r="1.6" fill="#000"/>
<circle cx="441.9" cy="51.64" r="1.6" fill="#000"/>
<circle cx="444.2" cy="55.01" r="1.6" fill="#000"/>
<circle cx="446.5" cy="59.92" r="1.6" fill="#000"/>
<circle cx="448.8" cy="67.27" r="1.6" fill="#000"/>
<circle cx="451.1" cy="76.11" r="1.6" fill="#000"/>
<circle cx="453.4" cy="79.35" r="1.6" fill="#000"/>
<circle cx="455.7" cy="81.53" r="1.6" fill="#000"/>
<circle cx="458" cy="83.54" r="1.6" fill="#000"/>
<circle cx="460.3" cy="86.6" r="1.6" fill="#000"/>
<circle cx="462.6" cy="88.18" r="1.6" fill="#000"/>
<circle cx="464.9" cy="89.45" r="1.6" fill="#000"/>
<circle cx="467.2" cy="90.71" r="1.6" fill="#000"/>
<circle cx="469.5" cy="91.87" r="1.6" fill="#000"/>
<circle cx="471.8" cy="92.81" r="1.6" fill="#000"/>
<circle cx="474.1" cy="93.54" r="1.6" fill="#000"/>
<circle cx="476.4" cy="94.16" r="1.6" fill="#000"/>
<circle cx="478.7" cy="94.7" r="1.6" fill="#000"/>
<circle cx="481" cy="95.22" r="1.6" fill="#000"/>
<circle cx="483.3" cy="95.67" r="1.6" fill="#000"/>
<circle cx="485.6" cy="96.1" r="1.6" fill="#000"/>
<circle cx="487.9" cy="96.51" r="1.6" fill="#000"/>
<circle cx="490.2" cy="96.93" r="1.6" fill="#000"/>
<circle cx="492.5" cy="97.37" r="1.6" fill="#000"/>
<circle cx="494.8" cy="97.83" r="1.6" fill="#000"/>
<circle cx="497.1" cy="98.28" r="1.6" fill="#000"/>
<circle cx="499.4" cy="98.7" r="1.6" fill="#000"/>
<circle cx="501.7" cy="99.07" r="1.6" fill="#000"/>
<circle cx="504" cy="99.41" r="1.6" fill="#000"/>
<circle cx="506.3" cy="99.74" r="1.6" fill="#000"/>
<circle cx="508.6" cy="100.06" r="1.6" fill="#000"/>
<circle cx="510.9" cy="100.37" r="1.6" fill="#000"/>
<path d="M375.2,127.3 C375.67,126.35 377.2,128.72 378,121.6 C378.8,114.48 379.43,95 380,84.6 C380.57,74.2 380.65,67.12 381.4,59.2 C382.15,51.28 383.57,41.93 384.5,37.1 C385.43,32.27 386.15,32.62 387,30.2 C387.85,27.78 388.85,24.45 389.6,22.6 C390.35,20.75 390.13,19.73 391.5,19.1 C392.87,18.47 395.72,18.77 397.8,18.8 C399.88,18.83 401.97,18.98 404,19.3 C406.03,19.62 407.47,19.67 410,20.7 C412.53,21.73 416.7,24.03 419.2,25.5 C421.7,26.97 423.2,28.05 425,29.5 C426.8,30.95 428.08,31.78 430,34.2 C431.92,36.62 434.48,41.12 436.5,44 C438.52,46.88 440.18,49.25 442.1,51.5 C444.02,53.75 445.98,55.77 448,57.5 C450.02,59.23 451.87,60.65 454.2,61.9 C456.53,63.15 459.37,64.07 462,65 C464.63,65.93 466.68,66.57 470,67.5 C473.32,68.43 477.73,69.6 481.9,70.6 C486.07,71.6 490.02,72.5 495,73.5 C499.98,74.5 509,76.08 511.8,76.6" fill="none" stroke="#333" stroke-width="0.9" stroke-linejoin="round" stroke-linecap="round" />
<circle cx="375.2" cy="127.3" r="0.95" fill="#000"/>
<circle cx="377.5" cy="124.6" r="0.95" fill="#000"/>
<circle cx="379.8" cy="88.58" r="0.95" fill="#000"/>
<circle cx="382.1" cy="52.85" r="0.95" fill="#000"/>
<circle cx="384.4" cy="37.64" r="0.95" fill="#000"/>
<circle cx="386.7" cy="30.95" r="0.95" fill="#000"/>
<circle cx="389" cy="24.22" r="0.95" fill="#000"/>
<circle cx="391.3" cy="19.21" r="0.95" fill="#000"/>
<circle cx="393.6" cy="18.72" r="0.95" fill="#000"/>
<circle cx="395.9" cy="18.74" r="0.95" fill="#000"/>
<circle cx="398.2" cy="18.81" r="0.95" fill="#000"/>
<circle cx="400.5" cy="18.91" r="0.95" fill="#000"/>
<circle cx="402.8" cy="19.13" r="0.95" fill="#000"/>
<circle cx="405.1" cy="19.46" r="0.95" fill="#000"/>
<circle cx="407.4" cy="19.86" r="0.95" fill="#000"/>
<circle cx="409.7" cy="20.58" r="0.95" fill="#000"/>
<circle cx="412" cy="21.61" r="0.95" fill="#000"/>
<circle cx="414.3" cy="22.77" r="0.95" fill="#000"/>
<circle cx="416.6" cy="24.02" r="0.95" fill="#000"/>
<circle cx="418.9" cy="25.33" r="0.95" fill="#000"/>
<circle cx="421.2" cy="26.73" r="0.95" fill="#000"/>
<circle cx="423.5" cy="28.33" r="0.95" fill="#000"/>
<circle cx="425.8" cy="30.13" r="0.95" fill="#000"/>
<circle cx="428.1" cy="32.08" r="0.95" fill="#000"/>
<circle cx="430.4" cy="34.72" r="0.95" fill="#000"/>
<circle cx="432.7" cy="38.12" r="0.95" fill="#000"/>
<circle cx="435" cy="41.74" r="0.95" fill="#000"/>
<circle cx="437.3" cy="45.14" r="0.95" fill="#000"/>
<circle cx="439.6" cy="48.34" r="0.95" fill="#000"/>
<circle cx="441.9" cy="51.26" r="0.95" fill="#000"/>
<circle cx="444.2" cy="53.85" r="0.95" fill="#000"/>
<circle cx="446.5" cy="56.15" r="0.95" fill="#000"/>
<circle cx="448.8" cy="58.18" r="0.95" fill="#000"/>
<circle cx="451.1" cy="59.97" r="0.95" fill="#000"/>
<circle cx="453.4" cy="61.45" r="0.95" fill="#000"/>
<circle cx="455.7" cy="62.63" r="0.95" fill="#000"/>
<circle cx="458" cy="63.57" r="0.95" fill="#000"/>
<circle cx="460.3" cy="64.4" r="0.95" fill="#000"/>
<circle cx="462.6" cy="65.21" r="0.95" fill="#000"/>
<circle cx="464.9" cy="65.98" r="0.95" fill="#000"/>
<circle cx="467.2" cy="66.69" r="0.95" fill="#000"/>
<circle cx="469.5" cy="67.36" r="0.95" fill="#000"/>
<circle cx="471.8" cy="68" r="0.95" fill="#000"/>
<circle cx="474.1" cy="68.62" r="0.95" fill="#000"/>
<circle cx="476.4" cy="69.22" r="0.95" fill="#000"/>
<circle cx="478.7" cy="69.81" r="0.95" fill="#000"/>
<circle cx="481" cy="70.38" r="0.95" fill="#000"/>
<circle cx="483.3" cy="70.93" r="0.95" fill="#000"/>
<circle cx="485.6" cy="71.47" r="0.95" fill="#000"/>
<circle cx="487.9" cy="72" r="0.95" fill="#000"/>
<circle cx="490.2" cy="72.5" r="0.95" fill="#000"/>
<circle cx="492.5" cy="72.99" r="0.95" fill="#000"/>
<circle cx="494.8" cy="73.46" r="0.95" fill="#000"/>
<circle cx="497.1" cy="73.91" r="0.95" fill="#000"/>
<circle cx="499.4" cy="74.35" r="0.95" fill="#000"/>
<circle cx="501.7" cy="74.77" r="0.95" fill="#000"/>
<circle cx="504" cy="75.19" r="0.95" fill="#000"/>
<circle cx="506.3" cy="75.61" r="0.95" fill="#000"/>
<circle cx="508.6" cy="76.02" r="0.95" fill="#000"/>
<circle cx="510.9" cy="76.44" r="0.95" fill="#000"/>
<text x="1.9" y="169.8" font-size="12" text-anchor="start" fill="#000" font-weight="bold" style="stroke:#000;stroke-width:0.3px">D</text>
<rect x="26.8" y="171" width="138.4" height="120.1" fill="none" stroke="#858585" stroke-width="1"/>
<text x="24.2" y="293.6" font-size="6.9" text-anchor="end" fill="#111" font-weight="normal"  textLength="7.86" lengthAdjust="spacingAndGlyphs">0.2</text>
<text x="24.2" y="276.44" font-size="6.9" text-anchor="end" fill="#111" font-weight="normal"  textLength="7.86" lengthAdjust="spacingAndGlyphs">0.4</text>
<line x1="26.8" y1="273.94" x2="28.3" y2="273.94" stroke="#888" stroke-width="0.6" />
<line x1="165.2" y1="273.94" x2="163.7" y2="273.94" stroke="#888" stroke-width="0.6" />
<text x="24.2" y="259.29" font-size="6.9" text-anchor="end" fill="#111" font-weight="normal"  textLength="7.86" lengthAdjust="spacingAndGlyphs">0.6</text>
<line x1="26.8" y1="256.79" x2="28.3" y2="256.79" stroke="#888" stroke-width="0.6" />
<line x1="165.2" y1="256.79" x2="163.7" y2="256.79" stroke="#888" stroke-width="0.6" />
<text x="24.2" y="242.13" font-size="6.9" text-anchor="end" fill="#111" font-weight="normal"  textLength="7.86" lengthAdjust="spacingAndGlyphs">0.8</text>
<line x1="26.8" y1="239.63" x2="28.3" y2="239.63" stroke="#888" stroke-width="0.6" />
<line x1="165.2" y1="239.63" x2="163.7" y2="239.63" stroke="#888" stroke-width="0.6" />
<text x="24.2" y="224.97" font-size="6.9" text-anchor="end" fill="#111" font-weight="normal"  textLength="3.15" lengthAdjust="spacingAndGlyphs">1</text>
<line x1="26.8" y1="222.47" x2="28.3" y2="222.47" stroke="#888" stroke-width="0.6" />
<line x1="165.2" y1="222.47" x2="163.7" y2="222.47" stroke="#888" stroke-width="0.6" />
<text x="24.2" y="207.81" font-size="6.9" text-anchor="end" fill="#111" font-weight="normal"  textLength="7.86" lengthAdjust="spacingAndGlyphs">1.2</text>
<line x1="26.8" y1="205.31" x2="28.3" y2="205.31" stroke="#888" stroke-width="0.6" />
<line x1="165.2" y1="205.31" x2="163.7" y2="205.31" stroke="#888" stroke-width="0.6" />
<text x="24.2" y="190.66" font-size="6.9" text-anchor="end" fill="#111" font-weight="normal"  textLength="7.86" lengthAdjust="spacingAndGlyphs">1.4</text>
<line x1="26.8" y1="188.16" x2="28.3" y2="188.16" stroke="#888" stroke-width="0.6" />
<line x1="165.2" y1="188.16" x2="163.7" y2="188.16" stroke="#888" stroke-width="0.6" />
<text x="24.2" y="173.5" font-size="6.9" text-anchor="end" fill="#111" font-weight="normal"  textLength="7.86" lengthAdjust="spacingAndGlyphs">1.6</text>
<text x="26.8" y="298.6" font-size="6.9" text-anchor="middle" fill="#111" font-weight="normal"  textLength="3.15" lengthAdjust="spacingAndGlyphs">0</text>
<text x="49.87" y="298.6" font-size="6.9" text-anchor="middle" fill="#111" font-weight="normal"  textLength="6.29" lengthAdjust="spacingAndGlyphs">20</text>
<line x1="49.87" y1="291.1" x2="49.87" y2="289.6" stroke="#888" stroke-width="0.6" />
<line x1="49.87" y1="171" x2="49.87" y2="172.5" stroke="#888" stroke-width="0.6" />
<text x="72.93" y="298.6" font-size="6.9" text-anchor="middle" fill="#111" font-weight="normal"  textLength="6.29" lengthAdjust="spacingAndGlyphs">40</text>
<line x1="72.93" y1="291.1" x2="72.93" y2="289.6" stroke="#888" stroke-width="0.6" />
<line x1="72.93" y1="171" x2="72.93" y2="172.5" stroke="#888" stroke-width="0.6" />
<text x="96" y="298.6" font-size="6.9" text-anchor="middle" fill="#111" font-weight="normal"  textLength="6.29" lengthAdjust="spacingAndGlyphs">60</text>
<line x1="96" y1="291.1" x2="96" y2="289.6" stroke="#888" stroke-width="0.6" />
<line x1="96" y1="171" x2="96" y2="172.5" stroke="#888" stroke-width="0.6" />
<text x="119.07" y="298.6" font-size="6.9" text-anchor="middle" fill="#111" font-weight="normal"  textLength="6.29" lengthAdjust="spacingAndGlyphs">80</text>
<line x1="119.07" y1="291.1" x2="119.07" y2="289.6" stroke="#888" stroke-width="0.6" />
<line x1="119.07" y1="171" x2="119.07" y2="172.5" stroke="#888" stroke-width="0.6" />
<text x="142.13" y="298.6" font-size="6.9" text-anchor="middle" fill="#111" font-weight="normal"  textLength="9.44" lengthAdjust="spacingAndGlyphs">100</text>
<line x1="142.13" y1="291.1" x2="142.13" y2="289.6" stroke="#888" stroke-width="0.6" />
<line x1="142.13" y1="171" x2="142.13" y2="172.5" stroke="#888" stroke-width="0.6" />
<text x="165.2" y="298.6" font-size="6.9" text-anchor="middle" fill="#111" font-weight="normal"  textLength="9.44" lengthAdjust="spacingAndGlyphs">120</text>
<text x="96.2" y="309.7" font-size="7.7" text-anchor="middle" fill="#111" font-weight="normal" >Time (minutes)</text>
<text x="8.69" y="232.8" font-size="7.75" text-anchor="middle" fill="#111" transform="rotate(-90 8.69 232.8)">Fibrin Formation and Lysis (A<tspan font-size="4.7" dy="4.4">405</tspan><tspan dy="-4.4">)</tspan></text>
<path d="M27.7,291 C27.92,290.17 28.57,288.63 29,286 C29.43,283.37 29.8,280.2 30.3,275.2 C30.8,270.2 31.28,260.62 32,256 C32.72,251.38 33.3,250.93 34.6,247.5 C35.9,244.07 37.78,238.15 39.8,235.4 C41.82,232.65 44.17,231.48 46.7,231 C49.23,230.52 51.25,231.05 55,232.5 C58.75,233.95 64.2,236.92 69.2,239.7 C74.2,242.48 80.92,246.32 85,249.2 C89.08,252.08 91.2,254.7 93.7,257 C96.2,259.3 98.23,260.78 100,263 C101.77,265.22 103.13,269.57 104.3,270.3 C105.47,271.03 105.88,267.45 107,267.4 C108.12,267.35 108.83,269.23 111,270 C113.17,270.77 115.17,271.33 120,272 C124.83,272.67 132.48,273.33 140,274 C147.52,274.67 160.92,275.67 165.1,276" fill="none" stroke="#3c3c3c" stroke-width="0.95" stroke-linejoin="round" stroke-linecap="round" />
<path d="M27.7,291 C27.92,290 28.57,288.83 29,285 C29.43,281.17 29.83,273.83 30.3,268 C30.77,262.17 31.27,255.5 31.8,250 C32.33,244.5 32.93,239.33 33.5,235 C34.07,230.67 34.58,226.95 35.2,224 C35.82,221.05 36.4,219.13 37.2,217.3 C38,215.47 38.57,214.22 40,213 C41.43,211.78 43.3,210.33 45.8,210 C48.3,209.67 50.97,209.42 55,211 C59.03,212.58 65.83,216.92 70,219.5 C74.17,222.08 77.5,224.5 80,226.5 C82.5,228.5 82.72,228.33 85,231.5 C87.28,234.67 90.82,240.82 93.7,245.5 C96.58,250.18 100.15,256.1 102.3,259.6 C104.45,263.1 105.15,264.63 106.6,266.5 C108.05,268.37 108.83,269.83 111,270.8 C113.17,271.77 115.28,271.57 119.6,272.3 C123.92,273.03 129.32,274.08 136.9,275.2 C144.48,276.32 160.4,278.37 165.1,279" fill="none" stroke="#444" stroke-width="1" stroke-linejoin="round" stroke-linecap="round" />
<circle cx="27.7" cy="291" r="1.25" fill="#000"/>
<circle cx="30" cy="272.03" r="1.25" fill="#000"/>
<circle cx="32.3" cy="245.11" r="1.25" fill="#000"/>
<circle cx="34.6" cy="227.27" r="1.25" fill="#000"/>
<circle cx="36.9" cy="218.02" r="1.25" fill="#000"/>
<circle cx="39.2" cy="213.78" r="1.25" fill="#000"/>
<circle cx="41.5" cy="211.82" r="1.25" fill="#000"/>
<circle cx="43.8" cy="210.54" r="1.25" fill="#000"/>
<circle cx="46.1" cy="209.96" r="1.25" fill="#000"/>
<circle cx="48.4" cy="209.76" r="1.25" fill="#000"/>
<circle cx="50.7" cy="209.87" r="1.25" fill="#000"/>
<circle cx="53" cy="210.33" r="1.25" fill="#000"/>
<circle cx="55.3" cy="211.13" r="1.25" fill="#000"/>
<circle cx="57.6" cy="212.19" r="1.25" fill="#000"/>
<circle cx="59.9" cy="213.41" r="1.25" fill="#000"/>
<circle cx="62.2" cy="214.73" r="1.25" fill="#000"/>
<circle cx="64.5" cy="216.1" r="1.25" fill="#000"/>
<circle cx="66.8" cy="217.51" r="1.25" fill="#000"/>
<circle cx="69.1" cy="218.94" r="1.25" fill="#000"/>
<circle cx="71.4" cy="220.38" r="1.25" fill="#000"/>
<circle cx="73.7" cy="221.89" r="1.25" fill="#000"/>
<circle cx="76" cy="223.49" r="1.25" fill="#000"/>
<circle cx="78.3" cy="225.18" r="1.25" fill="#000"/>
<circle cx="80.6" cy="226.97" r="1.25" fill="#000"/>
<circle cx="82.9" cy="228.87" r="1.25" fill="#000"/>
<circle cx="85.2" cy="231.79" r="1.25" fill="#000"/>
<circle cx="87.5" cy="235.29" r="1.25" fill="#000"/>
<circle cx="89.8" cy="239.05" r="1.25" fill="#000"/>
<circle cx="92.1" cy="242.87" r="1.25" fill="#000"/>
<circle cx="94.4" cy="246.64" r="1.25" fill="#000"/>
<circle cx="96.7" cy="250.4" r="1.25" fill="#000"/>
<circle cx="99" cy="254.19" r="1.25" fill="#000"/>
<circle cx="101.3" cy="257.97" r="1.25" fill="#000"/>
<circle cx="103.6" cy="261.77" r="1.25" fill="#000"/>
<circle cx="105.9" cy="265.54" r="1.25" fill="#000"/>
<circle cx="108.2" cy="268.6" r="1.25" fill="#000"/>
<circle cx="110.5" cy="270.55" r="1.25" fill="#000"/>
<circle cx="112.8" cy="271.37" r="1.25" fill="#000"/>
<circle cx="115.1" cy="271.71" r="1.25" fill="#000"/>
<circle cx="117.4" cy="271.97" r="1.25" fill="#000"/>
<circle cx="119.7" cy="272.32" r="1.25" fill="#000"/>
<circle cx="122" cy="272.72" r="1.25" fill="#000"/>
<circle cx="124.3" cy="273.13" r="1.25" fill="#000"/>
<circle cx="126.6" cy="273.53" r="1.25" fill="#000"/>
<circle cx="128.9" cy="273.93" r="1.25" fill="#000"/>
<circle cx="131.2" cy="274.31" r="1.25" fill="#000"/>
<circle cx="133.5" cy="274.68" r="1.25" fill="#000"/>
<circle cx="135.8" cy="275.04" r="1.25" fill="#000"/>
<circle cx="138.1" cy="275.37" r="1.25" fill="#000"/>
<circle cx="140.4" cy="275.7" r="1.25" fill="#000"/>
<circle cx="142.7" cy="276.02" r="1.25" fill="#000"/>
<circle cx="145" cy="276.33" r="1.25" fill="#000"/>
<circle cx="147.3" cy="276.64" r="1.25" fill="#000"/>
<circle cx="149.6" cy="276.95" r="1.25" fill="#000"/>
<circle cx="151.9" cy="277.26" r="1.25" fill="#000"/>
<circle cx="154.2" cy="277.56" r="1.25" fill="#000"/>
<circle cx="156.5" cy="277.86" r="1.25" fill="#000"/>
<circle cx="158.8" cy="278.17" r="1.25" fill="#000"/>
<circle cx="161.1" cy="278.47" r="1.25" fill="#000"/>
<circle cx="163.4" cy="278.77" r="1.25" fill="#000"/>
<path d="M27.7,291 C27.92,290 28.57,289.33 29,285 C29.43,280.67 29.88,272.5 30.3,265 C30.72,257.5 31.07,247.17 31.5,240 C31.93,232.83 32.38,227.57 32.9,222 C33.42,216.43 33.88,210.7 34.6,206.6 C35.32,202.5 36.33,200.08 37.2,197.4 C38.07,194.72 37.93,192.15 39.8,190.5 C41.67,188.85 45.53,187.97 48.4,187.5 C51.27,187.03 54.07,187.37 57,187.7 C59.93,188.03 63.4,188.82 66,189.5 C68.6,190.18 70.43,190.8 72.6,191.8 C74.77,192.8 76.88,194.1 79,195.5 C81.12,196.9 83,198.18 85.3,200.2 C87.6,202.22 90.33,204.83 92.8,207.6 C95.27,210.37 98.27,214.15 100.1,216.8 C101.93,219.45 102.55,220.88 103.8,223.5 C105.05,226.12 106.33,229.67 107.6,232.5 C108.87,235.33 110.35,238.33 111.4,240.5 C112.45,242.67 113.23,244.15 113.9,245.5 C114.57,246.85 114.33,247.62 115.4,248.6 C116.47,249.58 118.23,250.45 120.3,251.4 C122.37,252.35 125.03,253.27 127.8,254.3 C130.57,255.33 133.2,256.58 136.9,257.6 C140.6,258.62 145.3,259.55 150,260.4 C154.7,261.25 162.58,262.32 165.1,262.7" fill="none" stroke="#444" stroke-width="1" stroke-linejoin="round" stroke-linecap="round" />
<circle cx="27.7" cy="291" r="1.6" fill="#000"/>
<circle cx="30" cy="270.36" r="1.6" fill="#000"/>
<circle cx="32.3" cy="228.79" r="1.6" fill="#000"/>
<circle cx="34.6" cy="206.6" r="1.6" fill="#000"/>
<circle cx="36.9" cy="198.3" r="1.6" fill="#000"/>
<circle cx="39.2" cy="191.16" r="1.6" fill="#000"/>
<circle cx="41.5" cy="189.42" r="1.6" fill="#000"/>
<circle cx="43.8" cy="188.53" r="1.6" fill="#000"/>
<circle cx="46.1" cy="187.94" r="1.6" fill="#000"/>
<circle cx="48.4" cy="187.5" r="1.6" fill="#000"/>
<circle cx="50.7" cy="187.28" r="1.6" fill="#000"/>
<circle cx="53" cy="187.32" r="1.6" fill="#000"/>
<circle cx="55.3" cy="187.51" r="1.6" fill="#000"/>
<circle cx="57.6" cy="187.77" r="1.6" fill="#000"/>
<circle cx="59.9" cy="188.13" r="1.6" fill="#000"/>
<circle cx="62.2" cy="188.59" r="1.6" fill="#000"/>
<circle cx="64.5" cy="189.12" r="1.6" fill="#000"/>
<circle cx="66.8" cy="189.72" r="1.6" fill="#000"/>
<circle cx="69.1" cy="190.41" r="1.6" fill="#000"/>
<circle cx="71.4" cy="191.27" r="1.6" fill="#000"/>
<circle cx="73.7" cy="192.33" r="1.6" fill="#000"/>
<circle cx="76" cy="193.61" r="1.6" fill="#000"/>
<circle cx="78.3" cy="195.04" r="1.6" fill="#000"/>
<circle cx="80.6" cy="196.57" r="1.6" fill="#000"/>
<circle cx="82.9" cy="198.23" r="1.6" fill="#000"/>
<circle cx="85.2" cy="200.11" r="1.6" fill="#000"/>
<circle cx="87.5" cy="202.2" r="1.6" fill="#000"/>
<circle cx="89.8" cy="204.43" r="1.6" fill="#000"/>
<circle cx="92.1" cy="206.83" r="1.6" fill="#000"/>
<circle cx="94.4" cy="209.45" r="1.6" fill="#000"/>
<circle cx="96.7" cy="212.26" r="1.6" fill="#000"/>
<circle cx="99" cy="215.26" r="1.6" fill="#000"/>
<circle cx="101.3" cy="218.64" r="1.6" fill="#000"/>
<circle cx="103.6" cy="223.08" r="1.6" fill="#000"/>
<circle cx="105.9" cy="228.43" r="1.6" fill="#000"/>
<circle cx="108.2" cy="233.82" r="1.6" fill="#000"/>
<circle cx="110.5" cy="238.65" r="1.6" fill="#000"/>
<circle cx="112.8" cy="243.32" r="1.6" fill="#000"/>
<circle cx="115.1" cy="248.29" r="1.6" fill="#000"/>
<circle cx="117.4" cy="249.97" r="1.6" fill="#000"/>
<circle cx="119.7" cy="251.12" r="1.6" fill="#000"/>
<circle cx="122" cy="252.13" r="1.6" fill="#000"/>
<circle cx="124.3" cy="253.01" r="1.6" fill="#000"/>
<circle cx="126.6" cy="253.86" r="1.6" fill="#000"/>
<circle cx="128.9" cy="254.72" r="1.6" fill="#000"/>
<circle cx="131.2" cy="255.64" r="1.6" fill="#000"/>
<circle cx="133.5" cy="256.52" r="1.6" fill="#000"/>
<circle cx="135.8" cy="257.28" r="1.6" fill="#000"/>
<circle cx="138.1" cy="257.92" r="1.6" fill="#000"/>
<circle cx="140.4" cy="258.47" r="1.6" fill="#000"/>
<circle cx="142.7" cy="258.98" r="1.6" fill="#000"/>
<circle cx="145" cy="259.45" r="1.6" fill="#000"/>
<circle cx="147.3" cy="259.9" r="1.6" fill="#000"/>
<circle cx="149.6" cy="260.33" r="1.6" fill="#000"/>
<circle cx="151.9" cy="260.73" r="1.6" fill="#000"/>
<circle cx="154.2" cy="261.1" r="1.6" fill="#000"/>
<circle cx="156.5" cy="261.45" r="1.6" fill="#000"/>
<circle cx="158.8" cy="261.79" r="1.6" fill="#000"/>
<circle cx="161.1" cy="262.12" r="1.6" fill="#000"/>
<circle cx="163.4" cy="262.45" r="1.6" fill="#000"/>
<path d="M27.7,291 C27.92,290 28.57,289.33 29,285 C29.43,280.67 29.88,272.5 30.3,265 C30.72,257.5 31.18,248.33 31.5,240 C31.82,231.67 31.97,222.5 32.2,215 C32.43,207.5 32.52,199.83 32.9,195 C33.28,190.17 33.65,188.63 34.5,186 C35.35,183.37 36.25,180.6 38,179.2 C39.75,177.8 41.53,177.92 45,177.6 C48.47,177.28 55.3,177.18 58.8,177.3 C62.3,177.42 63.7,177.83 66,178.3 C68.3,178.77 70.43,179.35 72.6,180.1 C74.77,180.85 76.88,181.72 79,182.8 C81.12,183.88 83.38,185.23 85.3,186.6 C87.22,187.97 88.82,189.47 90.5,191 C92.18,192.53 94.12,194.43 95.4,195.8 C96.68,197.17 97.15,197.8 98.2,199.2 C99.25,200.6 100.55,202.57 101.7,204.2 C102.85,205.83 104.05,207.37 105.1,209 C106.15,210.63 107.15,212.47 108,214 C108.85,215.53 109,215.68 110.2,218.2 C111.4,220.72 113.32,225.7 115.2,229.1 C117.08,232.5 119.4,235.45 121.5,238.6 C123.6,241.75 126.05,245.85 127.8,248 C129.55,250.15 130.52,250.52 132,251.5 C133.48,252.48 134.53,252.87 136.7,253.9 C138.87,254.93 142.08,256.55 145,257.7 C147.92,258.85 150.85,259.9 154.2,260.8 C157.55,261.7 163.28,262.72 165.1,263.1" fill="none" stroke="#333" stroke-width="0.9" stroke-linejoin="round" stroke-linecap="round" />
<circle cx="27.7" cy="291" r="0.95" fill="#000"/>
<circle cx="30" cy="270.36" r="0.95" fill="#000"/>
<circle cx="32.3" cy="211.48" r="0.95" fill="#000"/>
<circle cx="34.6" cy="185.69" r="0.95" fill="#000"/>
<circle cx="36.9" cy="180.4" r="0.95" fill="#000"/>
<circle cx="39.2" cy="178.47" r="0.95" fill="#000"/>
<circle cx="41.5" cy="177.9" r="0.95" fill="#000"/>
<circle cx="43.8" cy="177.7" r="0.95" fill="#000"/>
<circle cx="46.1" cy="177.51" r="0.95" fill="#000"/>
<circle cx="48.4" cy="177.39" r="0.95" fill="#000"/>
<circle cx="50.7" cy="177.31" r="0.95" fill="#000"/>
<circle cx="53" cy="177.27" r="0.95" fill="#000"/>
<circle cx="55.3" cy="177.25" r="0.95" fill="#000"/>
<circle cx="57.6" cy="177.27" r="0.95" fill="#000"/>
<circle cx="59.9" cy="177.35" r="0.95" fill="#000"/>
<circle cx="62.2" cy="177.57" r="0.95" fill="#000"/>
<circle cx="64.5" cy="177.99" r="0.95" fill="#000"/>
<circle cx="66.8" cy="178.47" r="0.95" fill="#000"/>
<circle cx="69.1" cy="179.03" r="0.95" fill="#000"/>
<circle cx="71.4" cy="179.7" r="0.95" fill="#000"/>
<circle cx="73.7" cy="180.49" r="0.95" fill="#000"/>
<circle cx="76" cy="181.4" r="0.95" fill="#000"/>
<circle cx="78.3" cy="182.45" r="0.95" fill="#000"/>
<circle cx="80.6" cy="183.65" r="0.95" fill="#000"/>
<circle cx="82.9" cy="185.01" r="0.95" fill="#000"/>
<circle cx="85.2" cy="186.53" r="0.95" fill="#000"/>
<circle cx="87.5" cy="188.32" r="0.95" fill="#000"/>
<circle cx="89.8" cy="190.36" r="0.95" fill="#000"/>
<circle cx="92.1" cy="192.5" r="0.95" fill="#000"/>
<circle cx="94.4" cy="194.76" r="0.95" fill="#000"/>
<circle cx="96.7" cy="197.26" r="0.95" fill="#000"/>
<circle cx="99" cy="200.3" r="0.95" fill="#000"/>
<circle cx="101.3" cy="203.63" r="0.95" fill="#000"/>
<circle cx="103.6" cy="206.82" r="0.95" fill="#000"/>
<circle cx="105.9" cy="210.29" r="0.95" fill="#000"/>
<circle cx="108.2" cy="214.36" r="0.95" fill="#000"/>
<circle cx="110.5" cy="218.85" r="0.95" fill="#000"/>
<circle cx="112.8" cy="224.13" r="0.95" fill="#000"/>
<circle cx="115.1" cy="228.91" r="0.95" fill="#000"/>
<circle cx="117.4" cy="232.67" r="0.95" fill="#000"/>
<circle cx="119.7" cy="235.99" r="0.95" fill="#000"/>
<circle cx="122" cy="239.36" r="0.95" fill="#000"/>
<circle cx="124.3" cy="242.93" r="0.95" fill="#000"/>
<circle cx="126.6" cy="246.39" r="0.95" fill="#000"/>
<circle cx="128.9" cy="249.23" r="0.95" fill="#000"/>
<circle cx="131.2" cy="250.99" r="0.95" fill="#000"/>
<circle cx="133.5" cy="252.38" r="0.95" fill="#000"/>
<circle cx="135.8" cy="253.48" r="0.95" fill="#000"/>
<circle cx="138.1" cy="254.57" r="0.95" fill="#000"/>
<circle cx="140.4" cy="255.68" r="0.95" fill="#000"/>
<circle cx="142.7" cy="256.73" r="0.95" fill="#000"/>
<circle cx="145" cy="257.7" r="0.95" fill="#000"/>
<circle cx="147.3" cy="258.58" r="0.95" fill="#000"/>
<circle cx="149.6" cy="259.4" r="0.95" fill="#000"/>
<circle cx="151.9" cy="260.14" r="0.95" fill="#000"/>
<circle cx="154.2" cy="260.8" r="0.95" fill="#000"/>
<circle cx="156.5" cy="261.36" r="0.95" fill="#000"/>
<circle cx="158.8" cy="261.85" r="0.95" fill="#000"/>
<circle cx="161.1" cy="262.32" r="0.95" fill="#000"/>
<circle cx="163.4" cy="262.76" r="0.95" fill="#000"/>
<text x="175.6" y="169.9" font-size="12" text-anchor="start" fill="#000" font-weight="bold" style="stroke:#000;stroke-width:0.3px">E</text>
<rect x="201" y="173" width="142.6" height="118.2" fill="none" stroke="#d6d6d6" stroke-width="0.7"/>
<text x="199" y="293.4" font-size="7.4" text-anchor="end" fill="#111" font-weight="normal" >0</text>
<text x="199" y="269.8" font-size="7.4" text-anchor="end" fill="#111" font-weight="normal" >10</text>
<text x="199" y="246.2" font-size="7.4" text-anchor="end" fill="#111" font-weight="normal" >20</text>
<text x="199" y="222.6" font-size="7.4" text-anchor="end" fill="#111" font-weight="normal" >30</text>
<text x="199" y="199" font-size="7.4" text-anchor="end" fill="#111" font-weight="normal" >40</text>
<text x="199" y="175.4" font-size="7.4" text-anchor="end" fill="#111" font-weight="normal" >50</text>
<rect x="201.8" y="186.8" width="9.1" height="104.5" fill="#ececec" stroke="#c8c8c8" stroke-width="0.5"/>
<line x1="206.35" y1="186.8" x2="206.35" y2="179" stroke="#c4c4c4" stroke-width="0.5" />
<rect x="212.9" y="232.8" width="8.1" height="58.5" fill="#b2b2b2" stroke="#999999" stroke-width="0.5"/>
<line x1="216.95" y1="232.8" x2="216.95" y2="227.5" stroke="#c4c4c4" stroke-width="0.5" />
<rect x="223" y="244.4" width="8.2" height="46.9" fill="#707070" stroke="#555555" stroke-width="0.5"/>
<line x1="227.1" y1="244.4" x2="227.1" y2="238.5" stroke="#bbbbbb" stroke-width="0.5" />
<rect x="233.1" y="247.8" width="8.1" height="43.5" fill="#000000" stroke="#000000" stroke-width="0.5"/>
<line x1="237.15" y1="247.8" x2="237.15" y2="240.5" stroke="#bbbbbb" stroke-width="0.5" />
<rect x="253.3" y="261.2" width="8.6" height="30.1" fill="#ececec" stroke="#c8c8c8" stroke-width="0.5"/>
<line x1="257.6" y1="261.2" x2="257.6" y2="250.5" stroke="#c4c4c4" stroke-width="0.5" />
<rect x="263.7" y="261" width="8.2" height="30.3" fill="#b2b2b2" stroke="#999999" stroke-width="0.5"/>
<line x1="267.8" y1="261" x2="267.8" y2="253.5" stroke="#c4c4c4" stroke-width="0.5" />
<rect x="273.7" y="260.1" width="8.3" height="31.2" fill="#707070" stroke="#555555" stroke-width="0.5"/>
<line x1="277.85" y1="260.1" x2="277.85" y2="254" stroke="#bbbbbb" stroke-width="0.5" />
<rect x="284.2" y="255.1" width="7.8" height="36.2" fill="#000000" stroke="#000000" stroke-width="0.5"/>
<line x1="288.1" y1="255.1" x2="288.1" y2="249.5" stroke="#bbbbbb" stroke-width="0.5" />
<rect x="304.3" y="253.3" width="8.2" height="38" fill="#ececec" stroke="#c8c8c8" stroke-width="0.5"/>
<line x1="308.4" y1="253.3" x2="308.4" y2="244.5" stroke="#c4c4c4" stroke-width="0.5" />
<rect x="314.3" y="261.5" width="8.2" height="29.8" fill="#b2b2b2" stroke="#999999" stroke-width="0.5"/>
<line x1="318.4" y1="261.5" x2="318.4" y2="255.5" stroke="#c4c4c4" stroke-width="0.5" />
<rect x="324.4" y="258.2" width="8.2" height="33.1" fill="#707070" stroke="#555555" stroke-width="0.5"/>
<line x1="328.5" y1="258.2" x2="328.5" y2="253.5" stroke="#bbbbbb" stroke-width="0.5" />
<rect x="334.6" y="264.5" width="8.2" height="26.8" fill="#000000" stroke="#000000" stroke-width="0.5"/>
<line x1="338.7" y1="264.5" x2="338.7" y2="261" stroke="#bbbbbb" stroke-width="0.5" />
<line x1="206.35" y1="173" x2="206.35" y2="174.6" stroke="#c8c8c8" stroke-width="0.6" />
<line x1="216.95" y1="173" x2="216.95" y2="174.6" stroke="#c8c8c8" stroke-width="0.6" />
<line x1="227.1" y1="173" x2="227.1" y2="174.6" stroke="#c8c8c8" stroke-width="0.6" />
<line x1="237.15" y1="173" x2="237.15" y2="174.6" stroke="#c8c8c8" stroke-width="0.6" />
<line x1="257.6" y1="173" x2="257.6" y2="174.6" stroke="#c8c8c8" stroke-width="0.6" />
<line x1="267.8" y1="173" x2="267.8" y2="174.6" stroke="#c8c8c8" stroke-width="0.6" />
<line x1="277.85" y1="173" x2="277.85" y2="174.6" stroke="#c8c8c8" stroke-width="0.6" />
<line x1="288.1" y1="173" x2="288.1" y2="174.6" stroke="#c8c8c8" stroke-width="0.6" />
<line x1="308.4" y1="173" x2="308.4" y2="174.6" stroke="#c8c8c8" stroke-width="0.6" />
<line x1="318.4" y1="173" x2="318.4" y2="174.6" stroke="#c8c8c8" stroke-width="0.6" />
<line x1="328.5" y1="173" x2="328.5" y2="174.6" stroke="#c8c8c8" stroke-width="0.6" />
<line x1="338.7" y1="173" x2="338.7" y2="174.6" stroke="#c8c8c8" stroke-width="0.6" />
<circle cx="217.3" cy="221.9" r="1.15" fill="#111"/>
<circle cx="227.4" cy="229.2" r="1.15" fill="#111"/>
<circle cx="237.4" cy="233" r="1.15" fill="#111"/>
<circle cx="257.7" cy="247.8" r="1.15" fill="#111"/>
<circle cx="267.9" cy="250.2" r="1.15" fill="#111"/>
<circle cx="278" cy="250.2" r="1.15" fill="#111"/>
<circle cx="288" cy="246.6" r="1.15" fill="#111"/>
<circle cx="308.1" cy="242" r="1.15" fill="#111"/>
<circle cx="318.1" cy="253" r="1.15" fill="#111"/>
<circle cx="328.2" cy="252" r="1.15" fill="#111"/>
<circle cx="338.6" cy="257.9" r="1.15" fill="#111"/>
<text x="206.35" y="297.6" font-size="6.2" text-anchor="middle" fill="#111" font-weight="normal"  textLength="3.1" lengthAdjust="spacingAndGlyphs">3</text>
<text x="216.95" y="297.6" font-size="6.2" text-anchor="middle" fill="#111" font-weight="normal"  textLength="7.76" lengthAdjust="spacingAndGlyphs">4.5</text>
<text x="227.1" y="297.6" font-size="6.2" text-anchor="middle" fill="#111" font-weight="normal"  textLength="3.1" lengthAdjust="spacingAndGlyphs">6</text>
<text x="237.15" y="297.6" font-size="6.2" text-anchor="middle" fill="#111" font-weight="normal"  textLength="7.76" lengthAdjust="spacingAndGlyphs">7.5</text>
<text x="257.6" y="297.6" font-size="6.2" text-anchor="middle" fill="#111" font-weight="normal"  textLength="3.1" lengthAdjust="spacingAndGlyphs">3</text>
<text x="267.8" y="297.6" font-size="6.2" text-anchor="middle" fill="#111" font-weight="normal"  textLength="7.76" lengthAdjust="spacingAndGlyphs">4.5</text>
<text x="277.85" y="297.6" font-size="6.2" text-anchor="middle" fill="#111" font-weight="normal"  textLength="3.1" lengthAdjust="spacingAndGlyphs">6</text>
<text x="288.1" y="297.6" font-size="6.2" text-anchor="middle" fill="#111" font-weight="normal"  textLength="7.76" lengthAdjust="spacingAndGlyphs">7.5</text>
<text x="308.4" y="297.6" font-size="6.2" text-anchor="middle" fill="#111" font-weight="normal"  textLength="3.1" lengthAdjust="spacingAndGlyphs">3</text>
<text x="318.4" y="297.6" font-size="6.2" text-anchor="middle" fill="#111" font-weight="normal"  textLength="7.76" lengthAdjust="spacingAndGlyphs">4.5</text>
<text x="328.5" y="297.6" font-size="6.2" text-anchor="middle" fill="#111" font-weight="normal"  textLength="3.1" lengthAdjust="spacingAndGlyphs">6</text>
<text x="338.7" y="297.6" font-size="6.2" text-anchor="middle" fill="#111" font-weight="normal"  textLength="7.76" lengthAdjust="spacingAndGlyphs">7.5</text>
<text x="225.3" y="306.4" font-size="6.6" text-anchor="middle" fill="#111" font-weight="normal"  textLength="20.01" lengthAdjust="spacingAndGlyphs">HSVEC</text>
<text x="273.1" y="306.4" font-size="6.6" text-anchor="middle" fill="#111" font-weight="normal"  textLength="14.23" lengthAdjust="spacingAndGlyphs">SMC</text>
<text x="323.5" y="306.4" font-size="6.6" text-anchor="middle" fill="#111" font-weight="normal"  textLength="40.11" lengthAdjust="spacingAndGlyphs">HSVEC + TNF&#945;</text>
<text x="269.5" y="315.8" font-size="8" text-anchor="middle" fill="#111" font-weight="normal" >mg/mL Fibrinogen</text>
<text x="182.47" y="231.85" font-size="7.97" text-anchor="middle" fill="#111" transform="rotate(-90 182.47 231.85)">Time to Peak Turbidity (minutes)</text>
<text x="354.7" y="169.9" font-size="12" text-anchor="start" fill="#000" font-weight="bold" style="stroke:#000;stroke-width:0.3px">F</text>
<rect x="376.1" y="174.2" width="141.4" height="116.6" fill="none" stroke="#d6d6d6" stroke-width="0.7"/>
<text x="373.4" y="293.7" font-size="7.4" text-anchor="end" fill="#111" font-weight="normal" >0</text>
<text x="373.4" y="260.7" font-size="7.4" text-anchor="end" fill="#111" font-weight="normal" >0.5</text>
<text x="373.4" y="227.7" font-size="7.4" text-anchor="end" fill="#111" font-weight="normal" >1</text>
<text x="373.4" y="194.7" font-size="7.4" text-anchor="end" fill="#111" font-weight="normal" >1.5</text>
<rect x="376.5" y="235.3" width="8.8" height="55.7" fill="#ececec" stroke="#c8c8c8" stroke-width="0.5"/>
<line x1="380.9" y1="235.3" x2="380.9" y2="231" stroke="#c4c4c4" stroke-width="0.5" />
<rect x="387.4" y="207.1" width="8.1" height="83.9" fill="#b2b2b2" stroke="#999999" stroke-width="0.5"/>
<line x1="391.45" y1="207.1" x2="391.45" y2="183.4" stroke="#c4c4c4" stroke-width="0.5" />
<rect x="397.4" y="203.6" width="8.2" height="87.4" fill="#707070" stroke="#555555" stroke-width="0.5"/>
<line x1="401.5" y1="203.6" x2="401.5" y2="200.5" stroke="#bbbbbb" stroke-width="0.5" />
<rect x="407.3" y="191.7" width="8.3" height="99.3" fill="#000000" stroke="#000000" stroke-width="0.5"/>
<line x1="411.45" y1="191.7" x2="411.45" y2="189" stroke="#bbbbbb" stroke-width="0.5" />
<rect x="427.3" y="218.1" width="8.5" height="72.9" fill="#ececec" stroke="#c8c8c8" stroke-width="0.5"/>
<line x1="431.55" y1="218.1" x2="431.55" y2="214.5" stroke="#c4c4c4" stroke-width="0.5" />
<rect x="437.3" y="204.8" width="8.3" height="86.2" fill="#b2b2b2" stroke="#999999" stroke-width="0.5"/>
<line x1="441.45" y1="204.8" x2="441.45" y2="202" stroke="#c4c4c4" stroke-width="0.5" />
<rect x="447.5" y="196.5" width="8.3" height="94.5" fill="#707070" stroke="#555555" stroke-width="0.5"/>
<line x1="451.65" y1="196.5" x2="451.65" y2="193.5" stroke="#bbbbbb" stroke-width="0.5" />
<rect x="457.5" y="188.5" width="8.3" height="102.5" fill="#000000" stroke="#000000" stroke-width="0.5"/>
<line x1="461.65" y1="188.5" x2="461.65" y2="186" stroke="#bbbbbb" stroke-width="0.5" />
<rect x="477.3" y="228.3" width="8.5" height="62.7" fill="#ececec" stroke="#c8c8c8" stroke-width="0.5"/>
<line x1="481.55" y1="228.3" x2="481.55" y2="222.5" stroke="#c4c4c4" stroke-width="0.5" />
<rect x="487.5" y="215.4" width="8.5" height="75.6" fill="#b2b2b2" stroke="#999999" stroke-width="0.5"/>
<line x1="491.75" y1="215.4" x2="491.75" y2="207" stroke="#c4c4c4" stroke-width="0.5" />
<rect x="497.8" y="201.3" width="8.2" height="89.7" fill="#707070" stroke="#555555" stroke-width="0.5"/>
<line x1="501.9" y1="201.3" x2="501.9" y2="196" stroke="#bbbbbb" stroke-width="0.5" />
<rect x="507.9" y="193.1" width="8.1" height="97.9" fill="#000000" stroke="#000000" stroke-width="0.5"/>
<line x1="511.95" y1="193.1" x2="511.95" y2="187" stroke="#bbbbbb" stroke-width="0.5" />
<line x1="380.9" y1="174.2" x2="380.9" y2="175.8" stroke="#c8c8c8" stroke-width="0.6" />
<line x1="391.45" y1="174.2" x2="391.45" y2="175.8" stroke="#c8c8c8" stroke-width="0.6" />
<line x1="401.5" y1="174.2" x2="401.5" y2="175.8" stroke="#c8c8c8" stroke-width="0.6" />
<line x1="411.45" y1="174.2" x2="411.45" y2="175.8" stroke="#c8c8c8" stroke-width="0.6" />
<line x1="431.55" y1="174.2" x2="431.55" y2="175.8" stroke="#c8c8c8" stroke-width="0.6" />
<line x1="441.45" y1="174.2" x2="441.45" y2="175.8" stroke="#c8c8c8" stroke-width="0.6" />
<line x1="451.65" y1="174.2" x2="451.65" y2="175.8" stroke="#c8c8c8" stroke-width="0.6" />
<line x1="461.65" y1="174.2" x2="461.65" y2="175.8" stroke="#c8c8c8" stroke-width="0.6" />
<line x1="481.55" y1="174.2" x2="481.55" y2="175.8" stroke="#c8c8c8" stroke-width="0.6" />
<line x1="491.75" y1="174.2" x2="491.75" y2="175.8" stroke="#c8c8c8" stroke-width="0.6" />
<line x1="501.9" y1="174.2" x2="501.9" y2="175.8" stroke="#c8c8c8" stroke-width="0.6" />
<line x1="511.95" y1="174.2" x2="511.95" y2="175.8" stroke="#c8c8c8" stroke-width="0.6" />
<circle cx="392.1" cy="180.8" r="1.15" fill="#111"/>
<circle cx="402.1" cy="196.3" r="1.15" fill="#111"/>
<circle cx="413.3" cy="186.8" r="1.15" fill="#111"/>
<circle cx="441.5" cy="198.5" r="1.15" fill="#111"/>
<circle cx="451.6" cy="191.3" r="1.15" fill="#111"/>
<circle cx="461.6" cy="182" r="1.15" fill="#111"/>
<circle cx="491.6" cy="205.6" r="1.15" fill="#111"/>
<circle cx="501.9" cy="192.7" r="1.15" fill="#111"/>
<circle cx="511.9" cy="184.6" r="1.15" fill="#111"/>
<path d="M441,189.9 L440.6,195.5 M442.4,189.9 L442,195.5 M439.6,191.8 L443.4,191.8 M439.6,193.7 L443.4,193.7" stroke="#222" stroke-width="0.75" fill="none"/>
<path d="M451.1,184.1 L450.7,189.7 M452.5,184.1 L452.1,189.7 M449.7,186 L453.5,186 M449.7,187.9 L453.5,187.9" stroke="#222" stroke-width="0.75" fill="none"/>
<path d="M461.1,174.5 L460.7,180.1 M462.5,174.5 L462.1,180.1 M459.7,176.4 L463.5,176.4 M459.7,178.3 L463.5,178.3" stroke="#222" stroke-width="0.75" fill="none"/>
<path d="M491.1,197.6 L490.7,203.2 M492.5,197.6 L492.1,203.2 M489.7,199.5 L493.5,199.5 M489.7,201.4 L493.5,201.4" stroke="#222" stroke-width="0.75" fill="none"/>
<path d="M501.4,185.1 L501,190.7 M502.8,185.1 L502.4,190.7 M500,187 L503.8,187 M500,188.9 L503.8,188.9" stroke="#222" stroke-width="0.75" fill="none"/>
<path d="M511.4,176.4 L511,182 M512.8,176.4 L512.4,182 M510,178.3 L513.8,178.3 M510,180.2 L513.8,180.2" stroke="#222" stroke-width="0.75" fill="none"/>
<text x="380.9" y="297.2" font-size="6.2" text-anchor="middle" fill="#111" font-weight="normal"  textLength="3.1" lengthAdjust="spacingAndGlyphs">3</text>
<text x="391.45" y="297.2" font-size="6.2" text-anchor="middle" fill="#111" font-weight="normal"  textLength="7.76" lengthAdjust="spacingAndGlyphs">4.5</text>
<text x="401.5" y="297.2" font-size="6.2" text-anchor="middle" fill="#111" font-weight="normal"  textLength="3.1" lengthAdjust="spacingAndGlyphs">6</text>
<text x="411.45" y="297.2" font-size="6.2" text-anchor="middle" fill="#111" font-weight="normal"  textLength="7.76" lengthAdjust="spacingAndGlyphs">7.5</text>
<text x="431.55" y="297.2" font-size="6.2" text-anchor="middle" fill="#111" font-weight="normal"  textLength="3.1" lengthAdjust="spacingAndGlyphs">3</text>
<text x="441.45" y="297.2" font-size="6.2" text-anchor="middle" fill="#111" font-weight="normal"  textLength="7.76" lengthAdjust="spacingAndGlyphs">4.5</text>
<text x="451.65" y="297.2" font-size="6.2" text-anchor="middle" fill="#111" font-weight="normal"  textLength="3.1" lengthAdjust="spacingAndGlyphs">6</text>
<text x="461.65" y="297.2" font-size="6.2" text-anchor="middle" fill="#111" font-weight="normal"  textLength="7.76" lengthAdjust="spacingAndGlyphs">7.5</text>
<text x="481.55" y="297.2" font-size="6.2" text-anchor="middle" fill="#111" font-weight="normal"  textLength="3.1" lengthAdjust="spacingAndGlyphs">3</text>
<text x="491.75" y="297.2" font-size="6.2" text-anchor="middle" fill="#111" font-weight="normal"  textLength="7.76" lengthAdjust="spacingAndGlyphs">4.5</text>
<text x="501.9" y="297.2" font-size="6.2" text-anchor="middle" fill="#111" font-weight="normal"  textLength="3.1" lengthAdjust="spacingAndGlyphs">6</text>
<text x="511.95" y="297.2" font-size="6.2" text-anchor="middle" fill="#111" font-weight="normal"  textLength="7.76" lengthAdjust="spacingAndGlyphs">7.5</text>
<text x="399.4" y="305.6" font-size="6.6" text-anchor="middle" fill="#111" font-weight="normal"  textLength="20.01" lengthAdjust="spacingAndGlyphs">HSVEC</text>
<text x="447" y="305.6" font-size="6.6" text-anchor="middle" fill="#111" font-weight="normal"  textLength="14.23" lengthAdjust="spacingAndGlyphs">SMC</text>
<text x="496.6" y="305.6" font-size="6.6" text-anchor="middle" fill="#111" font-weight="normal"  textLength="41.98" lengthAdjust="spacingAndGlyphs">HSVEC + TNF&#945;</text>
<text x="443.7" y="315.8" font-size="8" text-anchor="middle" fill="#111" font-weight="normal" >mg/mL Fibrinogen</text>
<text x="355.74" y="233.4" font-size="8.16" text-anchor="middle" fill="#111" transform="rotate(-90 355.74 233.4)">Peak Turbidity (A<tspan font-size="4.7" dy="4.4">405</tspan><tspan dy="-4.4">)</tspan></text>
<text x="88.3" y="332.8" font-size="12" text-anchor="start" fill="#000" font-weight="bold" style="stroke:#000;stroke-width:0.3px">G</text>
<rect x="121" y="328.3" width="130.5" height="123.5" fill="none" stroke="#dadada" stroke-width="0.7"/>
<text x="118.4" y="454.3" font-size="7.4" text-anchor="end" fill="#111" font-weight="normal" >0.1</text>
<text x="118.4" y="437.05" font-size="7.4" text-anchor="end" fill="#111" font-weight="normal" >0.2</text>
<text x="118.4" y="419.8" font-size="7.4" text-anchor="end" fill="#111" font-weight="normal" >0.3</text>
<text x="118.4" y="402.55" font-size="7.4" text-anchor="end" fill="#111" font-weight="normal" >0.4</text>
<text x="118.4" y="385.3" font-size="7.4" text-anchor="end" fill="#111" font-weight="normal" >0.5</text>
<text x="118.4" y="368.05" font-size="7.4" text-anchor="end" fill="#111" font-weight="normal" >0.6</text>
<text x="118.4" y="350.8" font-size="7.4" text-anchor="end" fill="#111" font-weight="normal" >0.7</text>
<text x="118.4" y="333.55" font-size="7.4" text-anchor="end" fill="#111" font-weight="normal" >0.8</text>
<text x="121.2" y="461.6" font-size="7.4" text-anchor="middle" fill="#111" font-weight="normal" >0</text>
<text x="147.45" y="461.6" font-size="7.4" text-anchor="middle" fill="#111" font-weight="normal" >5</text>
<text x="173.7" y="461.6" font-size="7.4" text-anchor="middle" fill="#111" font-weight="normal" >10</text>
<text x="199.95" y="461.6" font-size="7.4" text-anchor="middle" fill="#111" font-weight="normal" >15</text>
<text x="226.2" y="461.6" font-size="7.4" text-anchor="middle" fill="#111" font-weight="normal" >20</text>
<text x="252.45" y="461.6" font-size="7.4" text-anchor="middle" fill="#111" font-weight="normal" >25</text>
<text x="187.3" y="471" font-size="7.8" text-anchor="middle" fill="#111" font-weight="normal" >Time (minutes)</text>
<text x="94.61" y="391.8" font-size="7.81" text-anchor="middle" fill="#111" transform="rotate(-90 94.61 391.8)">Fibrin Formation and Lysis (A<tspan font-size="4.7" dy="4.4">405</tspan><tspan dy="-4.4">)</tspan></text>
<path d="M121.2,436.4 C122.98,436.4 129.73,437.3 131.9,436.4 C134.07,435.5 133.48,433.12 134.2,431 C134.92,428.88 135.23,425.37 136.2,423.7 C137.17,422.03 138.27,421.57 140,421 C141.73,420.43 144.1,420.13 146.6,420.3 C149.1,420.47 152.55,421.13 155,422 C157.45,422.87 159.47,424.25 161.3,425.5 C163.13,426.75 164.55,428.33 166,429.5 C167.45,430.67 168.58,431.67 170,432.5 C171.42,433.33 172.83,434.08 174.5,434.5 C176.17,434.92 167.17,434.88 180,435 C192.83,435.12 239.58,435.17 251.5,435.2" fill="none" stroke="#444" stroke-width="1" stroke-linejoin="round" stroke-linecap="round" />
<path d="M121.2,436.4 C122.98,436.4 129.73,437.3 131.9,436.4 C134.07,435.5 133.57,434.18 134.2,431 C134.83,427.82 135.22,422.68 135.7,417.3 C136.18,411.92 136.35,403.53 137.1,398.7 C137.85,393.87 139.05,391.1 140.2,388.3 C141.35,385.5 142.5,383.13 144,381.9 C145.5,380.67 147.18,380.83 149.2,380.9 C151.22,380.97 154.22,381.62 156.1,382.3 C157.98,382.98 159.05,383.8 160.5,385 C161.95,386.2 163.22,387.65 164.8,389.5 C166.38,391.35 168.13,393.52 170,396.1 C171.87,398.68 173.95,401.83 176,405 C178.05,408.17 180.47,412.35 182.3,415.1 C184.13,417.85 185.55,419.48 187,421.5 C188.45,423.52 189.18,425.23 191,427.2 C192.82,429.17 195.32,431.87 197.9,433.3 C200.48,434.73 197.57,435.28 206.5,435.8 C215.43,436.32 244,436.3 251.5,436.4" fill="none" stroke="#222" stroke-width="0.9" stroke-linejoin="round" stroke-linecap="round" />
<path d="M121.2,436.4 C122.98,436.4 129.73,437.3 131.9,436.4 C134.07,435.5 133.57,437.07 134.2,431 C134.83,424.93 135.23,408.5 135.7,400 C136.17,391.5 136.33,388.43 137,380 C137.67,371.57 138.82,355.9 139.7,349.4 C140.58,342.9 141.47,342.78 142.3,341 C143.13,339.22 143.67,339.3 144.7,338.7 C145.73,338.1 147.17,337.63 148.5,337.4 C149.83,337.17 151.3,337.15 152.7,337.3 C154.1,337.45 155.48,337.77 156.9,338.3 C158.32,338.83 159.78,339.43 161.2,340.5 C162.62,341.57 164.03,343.12 165.4,344.7 C166.77,346.28 168.28,348.42 169.4,350 C170.52,351.58 170.67,351.53 172.1,354.2 C173.53,356.87 175.98,361.95 178,366 C180.02,370.05 182.2,374.58 184.2,378.5 C186.2,382.42 187.97,385.87 190,389.5 C192.03,393.13 194.57,397.3 196.4,400.3 C198.23,403.3 199.38,405.08 201,407.5 C202.62,409.92 204.43,412.22 206.1,414.8 C207.77,417.38 209.38,420.37 211,423 C212.62,425.63 214.2,428.65 215.8,430.6 C217.4,432.55 218.9,433.75 220.6,434.7 C222.3,435.65 220.85,436.02 226,436.3 C231.15,436.58 247.25,436.38 251.5,436.4" fill="none" stroke="#222" stroke-width="0.9" stroke-linejoin="round" stroke-linecap="round" />
<rect x="120.7" y="435.5" width="1.8" height="1.8" fill="#111"/>
<rect x="124.9" y="435.5" width="1.8" height="1.8" fill="#111"/>
<rect x="129.1" y="435.5" width="1.8" height="1.8" fill="#111"/>
<rect x="133.3" y="430.1" width="1.8" height="1.8" fill="#111"/>
<rect x="137.5" y="363.23" width="1.8" height="1.8" fill="#111"/>
<rect x="141.7" y="339.81" width="1.8" height="1.8" fill="#111"/>
<rect x="145.9" y="337.08" width="1.8" height="1.8" fill="#111"/>
<rect x="150.1" y="336.44" width="1.8" height="1.8" fill="#111"/>
<rect x="154.3" y="337" width="1.8" height="1.8" fill="#111"/>
<rect x="158.5" y="338.68" width="1.8" height="1.8" fill="#111"/>
<rect x="162.7" y="342" width="1.8" height="1.8" fill="#111"/>
<rect x="166.9" y="346.98" width="1.8" height="1.8" fill="#111"/>
<rect x="171.1" y="353.14" width="1.8" height="1.8" fill="#111"/>
<rect x="175.3" y="361.5" width="1.8" height="1.8" fill="#111"/>
<rect x="179.5" y="369.94" width="1.8" height="1.8" fill="#111"/>
<rect x="183.7" y="378.36" width="1.8" height="1.8" fill="#111"/>
<rect x="187.9" y="386.32" width="1.8" height="1.8" fill="#111"/>
<rect x="192.1" y="393.66" width="1.8" height="1.8" fill="#111"/>
<rect x="196.3" y="400.65" width="1.8" height="1.8" fill="#111"/>
<rect x="200.5" y="407.17" width="1.8" height="1.8" fill="#111"/>
<rect x="204.7" y="413.18" width="1.8" height="1.8" fill="#111"/>
<rect x="208.9" y="420.09" width="1.8" height="1.8" fill="#111"/>
<rect x="213.1" y="426.85" width="1.8" height="1.8" fill="#111"/>
<rect x="217.3" y="431.75" width="1.8" height="1.8" fill="#111"/>
<rect x="221.5" y="434.33" width="1.8" height="1.8" fill="#111"/>
<rect x="225.7" y="435.4" width="1.8" height="1.8" fill="#111"/>
<rect x="229.9" y="435.42" width="1.8" height="1.8" fill="#111"/>
<rect x="234.1" y="435.44" width="1.8" height="1.8" fill="#111"/>
<rect x="238.3" y="435.45" width="1.8" height="1.8" fill="#111"/>
<rect x="242.5" y="435.47" width="1.8" height="1.8" fill="#111"/>
<rect x="246.7" y="435.48" width="1.8" height="1.8" fill="#111"/>
<rect x="120.7" y="435.5" width="1.8" height="1.8" fill="#111"/>
<rect x="124.9" y="435.5" width="1.8" height="1.8" fill="#111"/>
<rect x="129.1" y="435.5" width="1.8" height="1.8" fill="#111"/>
<rect x="133.3" y="430.1" width="1.8" height="1.8" fill="#111"/>
<rect x="137.5" y="393.44" width="1.8" height="1.8" fill="#111"/>
<rect x="141.7" y="383.36" width="1.8" height="1.8" fill="#111"/>
<rect x="145.9" y="380.46" width="1.8" height="1.8" fill="#111"/>
<rect x="150.1" y="380.37" width="1.8" height="1.8" fill="#111"/>
<rect x="154.3" y="381.22" width="1.8" height="1.8" fill="#111"/>
<rect x="158.5" y="383.43" width="1.8" height="1.8" fill="#111"/>
<rect x="162.7" y="387.34" width="1.8" height="1.8" fill="#111"/>
<rect x="166.9" y="392.41" width="1.8" height="1.8" fill="#111"/>
<rect x="171.1" y="398.17" width="1.8" height="1.8" fill="#111"/>
<rect x="175.3" y="404.42" width="1.8" height="1.8" fill="#111"/>
<rect x="179.5" y="411.15" width="1.8" height="1.8" fill="#111"/>
<rect x="183.7" y="417.33" width="1.8" height="1.8" fill="#111"/>
<rect x="187.9" y="423.17" width="1.8" height="1.8" fill="#111"/>
<rect x="192.1" y="428.07" width="1.8" height="1.8" fill="#111"/>
<rect x="196.3" y="431.78" width="1.8" height="1.8" fill="#111"/>
<rect x="200.5" y="433.42" width="1.8" height="1.8" fill="#111"/>
<rect x="204.7" y="434.64" width="1.8" height="1.8" fill="#111"/>
<rect x="208.9" y="434.94" width="1.8" height="1.8" fill="#111"/>
<rect x="213.1" y="435" width="1.8" height="1.8" fill="#111"/>
<rect x="217.3" y="435.06" width="1.8" height="1.8" fill="#111"/>
<rect x="221.5" y="435.11" width="1.8" height="1.8" fill="#111"/>
<rect x="225.7" y="435.17" width="1.8" height="1.8" fill="#111"/>
<rect x="229.9" y="435.22" width="1.8" height="1.8" fill="#111"/>
<rect x="234.1" y="435.28" width="1.8" height="1.8" fill="#111"/>
<rect x="238.3" y="435.34" width="1.8" height="1.8" fill="#111"/>
<rect x="242.5" y="435.39" width="1.8" height="1.8" fill="#111"/>
<rect x="246.7" y="435.45" width="1.8" height="1.8" fill="#111"/>
<text x="266.5" y="333.3" font-size="12" text-anchor="start" fill="#000" font-weight="bold" style="stroke:#000;stroke-width:0.3px">H</text>
<rect x="292.3" y="329.6" width="136.1" height="115.8" fill="none" stroke="#444" stroke-width="0.7"/>
<text x="288.6" y="447.9" font-size="7" text-anchor="end" fill="#111" font-weight="normal"  textLength="3.31" lengthAdjust="spacingAndGlyphs">0</text>
<text x="288.6" y="428.6" font-size="7" text-anchor="end" fill="#111" font-weight="normal"  textLength="6.62" lengthAdjust="spacingAndGlyphs">20</text>
<line x1="292.3" y1="426.1" x2="293.9" y2="426.1" stroke="#444" stroke-width="0.6" />
<line x1="428.4" y1="426.1" x2="426.8" y2="426.1" stroke="#444" stroke-width="0.6" />
<text x="288.6" y="409.3" font-size="7" text-anchor="end" fill="#111" font-weight="normal"  textLength="6.62" lengthAdjust="spacingAndGlyphs">40</text>
<line x1="292.3" y1="406.8" x2="293.9" y2="406.8" stroke="#444" stroke-width="0.6" />
<line x1="428.4" y1="406.8" x2="426.8" y2="406.8" stroke="#444" stroke-width="0.6" />
<text x="288.6" y="390" font-size="7" text-anchor="end" fill="#111" font-weight="normal"  textLength="6.62" lengthAdjust="spacingAndGlyphs">60</text>
<line x1="292.3" y1="387.5" x2="293.9" y2="387.5" stroke="#444" stroke-width="0.6" />
<line x1="428.4" y1="387.5" x2="426.8" y2="387.5" stroke="#444" stroke-width="0.6" />
<text x="288.6" y="370.7" font-size="7" text-anchor="end" fill="#111" font-weight="normal"  textLength="6.62" lengthAdjust="spacingAndGlyphs">80</text>
<line x1="292.3" y1="368.2" x2="293.9" y2="368.2" stroke="#444" stroke-width="0.6" />
<line x1="428.4" y1="368.2" x2="426.8" y2="368.2" stroke="#444" stroke-width="0.6" />
<text x="288.6" y="351.4" font-size="7" text-anchor="end" fill="#111" font-weight="normal"  textLength="9.93" lengthAdjust="spacingAndGlyphs">100</text>
<line x1="292.3" y1="348.9" x2="293.9" y2="348.9" stroke="#444" stroke-width="0.6" />
<line x1="428.4" y1="348.9" x2="426.8" y2="348.9" stroke="#444" stroke-width="0.6" />
<text x="288.6" y="332.1" font-size="7" text-anchor="end" fill="#111" font-weight="normal"  textLength="9.93" lengthAdjust="spacingAndGlyphs">120</text>
<text x="292.3" y="453.8" font-size="7" text-anchor="middle" fill="#111" font-weight="normal"  textLength="3.31" lengthAdjust="spacingAndGlyphs">0</text>
<text x="319.55" y="453.8" font-size="7" text-anchor="middle" fill="#111" font-weight="normal"  textLength="3.31" lengthAdjust="spacingAndGlyphs">5</text>
<line x1="319.55" y1="445.4" x2="319.55" y2="443.8" stroke="#444" stroke-width="0.6" />
<line x1="319.55" y1="329.6" x2="319.55" y2="331.2" stroke="#444" stroke-width="0.6" />
<text x="346.8" y="453.8" font-size="7" text-anchor="middle" fill="#111" font-weight="normal"  textLength="6.62" lengthAdjust="spacingAndGlyphs">10</text>
<line x1="346.8" y1="445.4" x2="346.8" y2="443.8" stroke="#444" stroke-width="0.6" />
<line x1="346.8" y1="329.6" x2="346.8" y2="331.2" stroke="#444" stroke-width="0.6" />
<text x="374.05" y="453.8" font-size="7" text-anchor="middle" fill="#111" font-weight="normal"  textLength="6.62" lengthAdjust="spacingAndGlyphs">15</text>
<line x1="374.05" y1="445.4" x2="374.05" y2="443.8" stroke="#444" stroke-width="0.6" />
<line x1="374.05" y1="329.6" x2="374.05" y2="331.2" stroke="#444" stroke-width="0.6" />
<text x="401.3" y="453.8" font-size="7" text-anchor="middle" fill="#111" font-weight="normal"  textLength="6.62" lengthAdjust="spacingAndGlyphs">20</text>
<line x1="401.3" y1="445.4" x2="401.3" y2="443.8" stroke="#444" stroke-width="0.6" />
<line x1="401.3" y1="329.6" x2="401.3" y2="331.2" stroke="#444" stroke-width="0.6" />
<text x="428.55" y="453.8" font-size="7" text-anchor="middle" fill="#111" font-weight="normal"  textLength="6.62" lengthAdjust="spacingAndGlyphs">25</text>
<text x="361.2" y="459.7" font-size="6.5" text-anchor="middle" fill="#111" font-weight="normal" >Time (min)</text>
<text x="273.78" y="387.8" font-size="6.6" text-anchor="middle" fill="#333" transform="rotate(-90 273.78 387.8)">Elastic Modulus (kdynes/cm<tspan font-size="4.2" dy="-3">2</tspan><tspan dy="3">)</tspan></text>
<polyline points="296.93,438.64 302.38,440.57 307.83,437.2 313.28,431.89 317.64,427.26 324.18,428.03 329.63,431.12 335.08,434.11 340.53,437.2 345.98,440.09 351.43,441.73" fill="none" stroke="#666" stroke-width="0.9" stroke-linejoin="round"  stroke-dasharray="1.0 1.3" stroke-linecap="butt"/>
<polyline points="296.93,440.29 302.38,440.09 307.83,420.79 313.28,400.33 318.73,396.38 324.18,395.12 329.63,395.8 335.08,398.69 340.53,403.71 345.98,407.96 351.43,415.29 356.88,422.72 362.33,429.38 367.78,435.46 373.23,439.51 378.68,440.38" fill="none" stroke="#333" stroke-width="0.85" stroke-linejoin="round"  stroke-dasharray="1.3 1.4" stroke-linecap="butt"/>
<polyline points="296.93,437.68 302.38,439.61 307.83,440.57 312.74,439.61 317.64,434.78 322.28,425.13 328.54,410.76 334.54,398.5 340.42,394.45 345.11,395.12 352.52,402.46 356.5,405.16 361.9,411.91 368,418.57 374,423.98 380.81,428.13 388.22,432.76 394.22,436.81 395.58,437.49" fill="none" stroke="#222" stroke-width="0.9" stroke-linejoin="round" stroke-linecap="round" />
<polyline points="296.93,436.71 302.38,439.61 307.83,440.09 313.28,439.61 318.73,426.1 324.18,397.63 329.63,367.24 335.08,347.16 340.53,336.35 345.98,333.46 351.43,336.93 356.88,343.11 362.33,360.48 367.78,379.78 373.23,393.68 378.68,405.16 384.13,413.94 389.58,419.73 395.03,425.62 400.48,430.92 405.93,435.75 411.38,439.13" fill="none" stroke="#222" stroke-width="0.9" stroke-linejoin="round" stroke-linecap="round" />
<circle cx="296.93" cy="436.71" r="1.45" fill="#000"/>
<circle cx="302.38" cy="439.61" r="1.45" fill="#000"/>
<circle cx="307.83" cy="440.09" r="1.45" fill="#000"/>
<circle cx="313.28" cy="439.61" r="1.45" fill="#000"/>
<circle cx="318.73" cy="426.1" r="1.45" fill="#000"/>
<circle cx="324.18" cy="397.63" r="1.45" fill="#000"/>
<circle cx="329.63" cy="367.24" r="1.45" fill="#000"/>
<circle cx="335.08" cy="347.16" r="1.45" fill="#000"/>
<circle cx="340.53" cy="336.35" r="1.45" fill="#000"/>
<circle cx="345.98" cy="333.46" r="1.45" fill="#000"/>
<circle cx="351.43" cy="336.93" r="1.45" fill="#000"/>
<circle cx="356.88" cy="343.11" r="1.45" fill="#000"/>
<circle cx="362.33" cy="360.48" r="1.45" fill="#000"/>
<circle cx="367.78" cy="379.78" r="1.45" fill="#000"/>
<circle cx="373.23" cy="393.68" r="1.45" fill="#000"/>
<circle cx="378.68" cy="405.16" r="1.45" fill="#000"/>
<circle cx="384.13" cy="413.94" r="1.45" fill="#000"/>
<circle cx="389.58" cy="419.73" r="1.45" fill="#000"/>
<circle cx="395.03" cy="425.62" r="1.45" fill="#000"/>
<circle cx="400.48" cy="430.92" r="1.45" fill="#000"/>
<circle cx="405.93" cy="435.75" r="1.45" fill="#000"/>
<circle cx="411.38" cy="439.13" r="1.45" fill="#000"/>
<rect x="295.53" y="438.89" width="2.8" height="2.8" fill="#000"/>
<rect x="300.98" y="438.69" width="2.8" height="2.8" fill="#000"/>
<rect x="306.43" y="419.39" width="2.8" height="2.8" fill="#000"/>
<rect x="311.88" y="398.93" width="2.8" height="2.8" fill="#000"/>
<rect x="317.33" y="394.98" width="2.8" height="2.8" fill="#000"/>
<rect x="322.78" y="393.72" width="2.8" height="2.8" fill="#000"/>
<rect x="328.23" y="394.4" width="2.8" height="2.8" fill="#000"/>
<rect x="333.68" y="397.29" width="2.8" height="2.8" fill="#000"/>
<rect x="339.13" y="402.31" width="2.8" height="2.8" fill="#000"/>
<rect x="344.58" y="406.56" width="2.8" height="2.8" fill="#000"/>
<rect x="350.03" y="413.89" width="2.8" height="2.8" fill="#000"/>
<rect x="355.48" y="421.32" width="2.8" height="2.8" fill="#000"/>
<rect x="360.93" y="427.98" width="2.8" height="2.8" fill="#000"/>
<rect x="366.38" y="434.06" width="2.8" height="2.8" fill="#000"/>
<rect x="371.83" y="438.11" width="2.8" height="2.8" fill="#000"/>
<rect x="377.28" y="438.98" width="2.8" height="2.8" fill="#000"/>
<rect x="390.3" y="332.4" width="34.5" height="19.8" fill="#fff" stroke="#888" stroke-width="0.5"/>
<line x1="390.8" y1="352.4" x2="425" y2="352.4" stroke="#bbb" stroke-width="0.8" />
<line x1="392.3" y1="336.1" x2="404" y2="336.1" stroke="#777" stroke-width="0.6" stroke-dasharray="1 1"/>
<circle cx="398.2" cy="336.1" r="1.1" fill="#fff" stroke="#777" stroke-width="0.4"/>
<line x1="392.3" y1="340.5" x2="404" y2="340.5" stroke="#333" stroke-width="0.6" stroke-dasharray="1 1"/>
<rect x="396.9" y="339.2" width="2.6" height="2.6" fill="#000" stroke="none" stroke-width="0.6"/>
<line x1="392.3" y1="344.8" x2="404" y2="344.8" stroke="#555" stroke-width="0.7" />
<line x1="392.3" y1="349.2" x2="404" y2="349.2" stroke="#333" stroke-width="0.7" />
<circle cx="398.2" cy="349.2" r="1.3" fill="#000"/>
<text x="405.2" y="337.4" font-size="3.8" text-anchor="start" fill="#666" font-weight="normal" >PPP</text>
<text x="405.2" y="341.8" font-size="3.8" text-anchor="start" fill="#666" font-weight="normal" >PPP+Fgn</text>
<text x="405.2" y="346.1" font-size="3.8" text-anchor="start" fill="#666" font-weight="normal" >PRP</text>
<text x="405.2" y="350.5" font-size="3.8" text-anchor="start" fill="#666" font-weight="normal" >PRP+Fgn</text>
</svg>
</body></html>
